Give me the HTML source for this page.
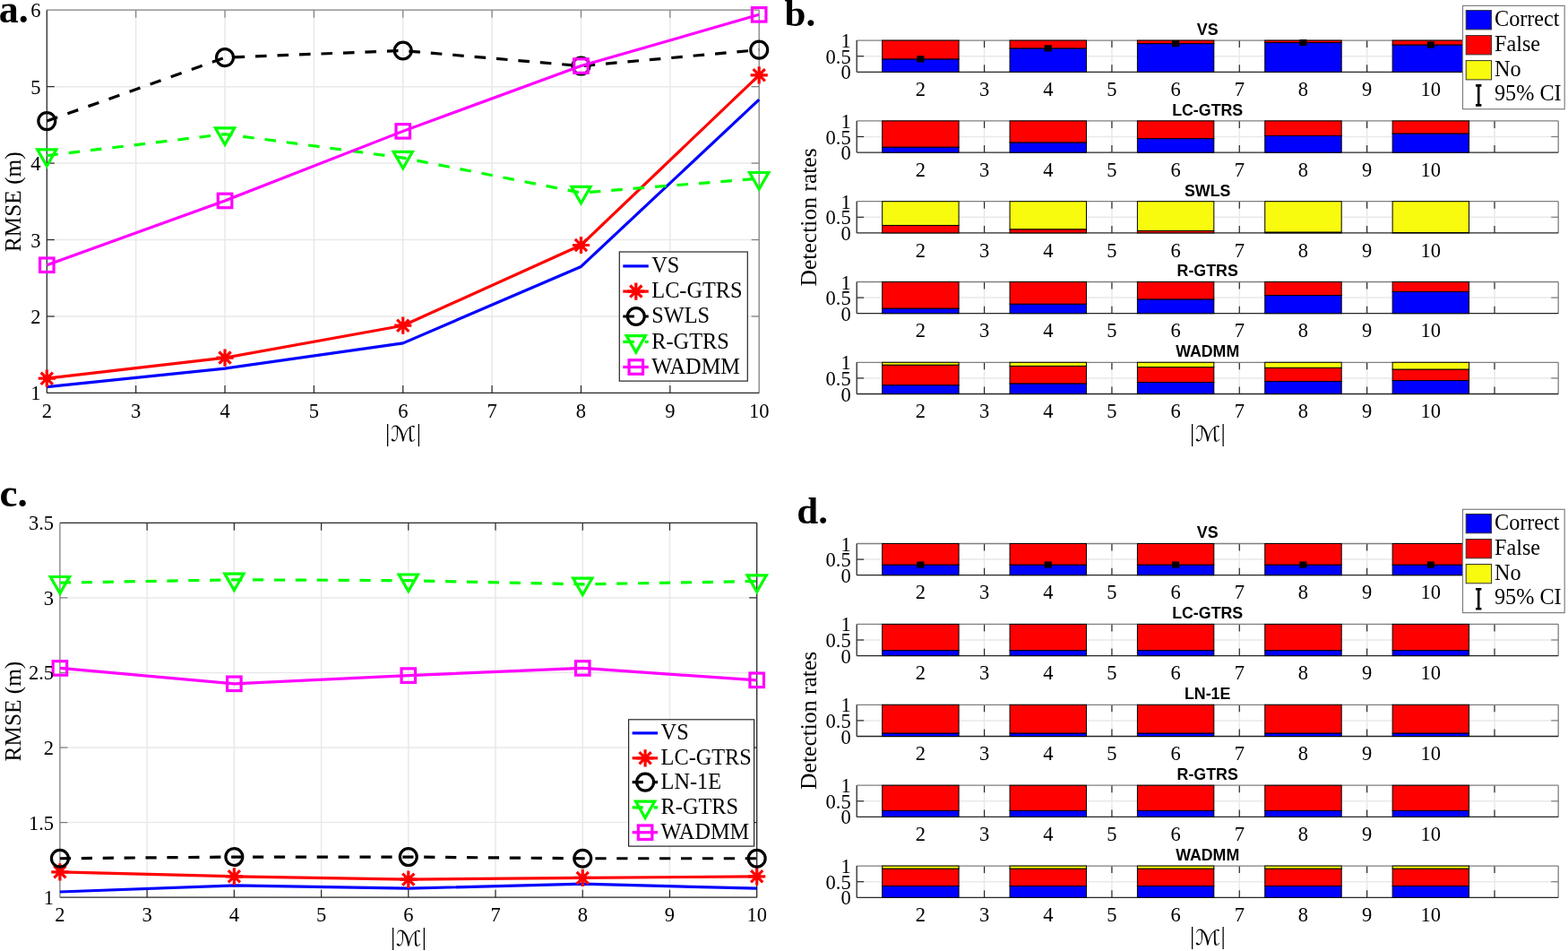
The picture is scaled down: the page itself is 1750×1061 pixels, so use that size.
<!DOCTYPE html>
<html><head><meta charset="utf-8"><title>Figure</title>
<style>html,body{margin:0;padding:0;background:#fff;overflow:hidden;}svg{display:block;}</style></head>
<body><svg width="1750" height="1061" viewBox="0 0 1750 1061">
<rect width="1750" height="1061" fill="#fff"/>
<line x1="151.66" y1="11.2" x2="151.66" y2="438.4" stroke="#e9e9e9" stroke-width="1.5" />
<line x1="251.03" y1="11.2" x2="251.03" y2="438.4" stroke="#e9e9e9" stroke-width="1.5" />
<line x1="350.39" y1="11.2" x2="350.39" y2="438.4" stroke="#e9e9e9" stroke-width="1.5" />
<line x1="449.75" y1="11.2" x2="449.75" y2="438.4" stroke="#e9e9e9" stroke-width="1.5" />
<line x1="549.11" y1="11.2" x2="549.11" y2="438.4" stroke="#e9e9e9" stroke-width="1.5" />
<line x1="648.48" y1="11.2" x2="648.48" y2="438.4" stroke="#e9e9e9" stroke-width="1.5" />
<line x1="747.84" y1="11.2" x2="747.84" y2="438.4" stroke="#e9e9e9" stroke-width="1.5" />
<line x1="52.3" y1="352.96" x2="847.2" y2="352.96" stroke="#e9e9e9" stroke-width="1.5" />
<line x1="52.3" y1="267.52" x2="847.2" y2="267.52" stroke="#e9e9e9" stroke-width="1.5" />
<line x1="52.3" y1="182.08" x2="847.2" y2="182.08" stroke="#e9e9e9" stroke-width="1.5" />
<line x1="52.3" y1="96.64" x2="847.2" y2="96.64" stroke="#e9e9e9" stroke-width="1.5" />
<line x1="151.66" y1="438.4" x2="151.66" y2="429.9" stroke="#262626" stroke-width="1.2" />
<line x1="151.66" y1="11.2" x2="151.66" y2="19.7" stroke="#7f7f7f" stroke-width="1.2" />
<line x1="251.03" y1="438.4" x2="251.03" y2="429.9" stroke="#262626" stroke-width="1.2" />
<line x1="251.03" y1="11.2" x2="251.03" y2="19.7" stroke="#7f7f7f" stroke-width="1.2" />
<line x1="350.39" y1="438.4" x2="350.39" y2="429.9" stroke="#262626" stroke-width="1.2" />
<line x1="350.39" y1="11.2" x2="350.39" y2="19.7" stroke="#7f7f7f" stroke-width="1.2" />
<line x1="449.75" y1="438.4" x2="449.75" y2="429.9" stroke="#262626" stroke-width="1.2" />
<line x1="449.75" y1="11.2" x2="449.75" y2="19.7" stroke="#7f7f7f" stroke-width="1.2" />
<line x1="549.11" y1="438.4" x2="549.11" y2="429.9" stroke="#262626" stroke-width="1.2" />
<line x1="549.11" y1="11.2" x2="549.11" y2="19.7" stroke="#7f7f7f" stroke-width="1.2" />
<line x1="648.48" y1="438.4" x2="648.48" y2="429.9" stroke="#262626" stroke-width="1.2" />
<line x1="648.48" y1="11.2" x2="648.48" y2="19.7" stroke="#7f7f7f" stroke-width="1.2" />
<line x1="747.84" y1="438.4" x2="747.84" y2="429.9" stroke="#262626" stroke-width="1.2" />
<line x1="747.84" y1="11.2" x2="747.84" y2="19.7" stroke="#7f7f7f" stroke-width="1.2" />
<line x1="52.3" y1="352.96" x2="60.8" y2="352.96" stroke="#262626" stroke-width="1.2" />
<line x1="847.2" y1="352.96" x2="838.7" y2="352.96" stroke="#7f7f7f" stroke-width="1.2" />
<line x1="52.3" y1="267.52" x2="60.8" y2="267.52" stroke="#262626" stroke-width="1.2" />
<line x1="847.2" y1="267.52" x2="838.7" y2="267.52" stroke="#7f7f7f" stroke-width="1.2" />
<line x1="52.3" y1="182.08" x2="60.8" y2="182.08" stroke="#262626" stroke-width="1.2" />
<line x1="847.2" y1="182.08" x2="838.7" y2="182.08" stroke="#7f7f7f" stroke-width="1.2" />
<line x1="52.3" y1="96.64" x2="60.8" y2="96.64" stroke="#262626" stroke-width="1.2" />
<line x1="847.2" y1="96.64" x2="838.7" y2="96.64" stroke="#7f7f7f" stroke-width="1.2" />
<line x1="52.3" y1="11.2" x2="847.2" y2="11.2" stroke="#7f7f7f" stroke-width="1.3" />
<line x1="847.2" y1="11.2" x2="847.2" y2="438.4" stroke="#7f7f7f" stroke-width="1.3" />
<line x1="52.3" y1="438.4" x2="847.2" y2="438.4" stroke="#262626" stroke-width="1.3" />
<line x1="52.3" y1="11.2" x2="52.3" y2="438.4" stroke="#262626" stroke-width="1.3" />
<polyline points="52.3,431.56 251.03,411.06 449.75,382.86 648.48,297.42 847.2,111.16" fill="none" stroke="#0000ff" stroke-width="3.2"  stroke-linejoin="round"/>
<polyline points="52.3,422.17 251.03,399.1 449.75,363.21 648.48,273.5 847.2,83.82" fill="none" stroke="#ff0000" stroke-width="3.2"  stroke-linejoin="round"/>
<path d="M42.7,422.17H61.9M52.3,412.57V431.77M45.7,415.57L58.9,428.77M45.7,428.77L58.9,415.57" stroke="#ff0000" stroke-width="3.2" fill="none"/>
<path d="M241.43,399.1H260.63M251.03,389.5V408.7M244.43,392.5L257.63,405.7M244.43,405.7L257.63,392.5" stroke="#ff0000" stroke-width="3.2" fill="none"/>
<path d="M440.15,363.21H459.35M449.75,353.61V372.81M443.15,356.61L456.35,369.81M443.15,369.81L456.35,356.61" stroke="#ff0000" stroke-width="3.2" fill="none"/>
<path d="M638.88,273.5H658.08M648.48,263.9V283.1M641.88,266.9L655.08,280.1M641.88,280.1L655.08,266.9" stroke="#ff0000" stroke-width="3.2" fill="none"/>
<path d="M837.6,83.82H856.8M847.2,74.22V93.42M840.6,77.22L853.8,90.42M840.6,90.42L853.8,77.22" stroke="#ff0000" stroke-width="3.2" fill="none"/>
<polyline points="52.3,135.09 251.03,64.17 449.75,56.48 648.48,73.57 847.2,55.63" fill="none" stroke="#000000" stroke-width="3.2" stroke-dasharray="12.6 11.9" stroke-linejoin="round"/>
<circle cx="52.3" cy="135.09" r="9.45" fill="none" stroke="#000000" stroke-width="3.2"/>
<circle cx="251.03" cy="64.17" r="9.45" fill="none" stroke="#000000" stroke-width="3.2"/>
<circle cx="449.75" cy="56.48" r="9.45" fill="none" stroke="#000000" stroke-width="3.2"/>
<circle cx="648.48" cy="73.57" r="9.45" fill="none" stroke="#000000" stroke-width="3.2"/>
<circle cx="847.2" cy="55.63" r="9.45" fill="none" stroke="#000000" stroke-width="3.2"/>
<polyline points="52.3,173.54 251.03,149.61 449.75,176.1 648.48,215.06 847.2,199.17" fill="none" stroke="#00ff00" stroke-width="3.2" stroke-dasharray="12.6 11.9" stroke-linejoin="round"/>
<path d="M41.7,166.89 L62.9,166.89 L52.3,185.34 Z" fill="none" stroke="#00ff00" stroke-width="3.2" stroke-linejoin="miter"/>
<path d="M240.43,142.96 L261.63,142.96 L251.03,161.41 Z" fill="none" stroke="#00ff00" stroke-width="3.2" stroke-linejoin="miter"/>
<path d="M439.15,169.45 L460.35,169.45 L449.75,187.9 Z" fill="none" stroke="#00ff00" stroke-width="3.2" stroke-linejoin="miter"/>
<path d="M637.88,208.41 L659.08,208.41 L648.48,226.86 Z" fill="none" stroke="#00ff00" stroke-width="3.2" stroke-linejoin="miter"/>
<path d="M836.6,192.52 L857.8,192.52 L847.2,210.97 Z" fill="none" stroke="#00ff00" stroke-width="3.2" stroke-linejoin="miter"/>
<polyline points="52.3,295.72 251.03,223.95 449.75,146.37 648.48,73.57 847.2,16.33" fill="none" stroke="#ff00ff" stroke-width="3.2"  stroke-linejoin="round"/>
<rect x="44.55" y="287.97" width="15.5" height="15.5" fill="none" stroke="#ff00ff" stroke-width="3.2"/>
<rect x="243.28" y="216.2" width="15.5" height="15.5" fill="none" stroke="#ff00ff" stroke-width="3.2"/>
<rect x="442" y="138.62" width="15.5" height="15.5" fill="none" stroke="#ff00ff" stroke-width="3.2"/>
<rect x="640.73" y="65.82" width="15.5" height="15.5" fill="none" stroke="#ff00ff" stroke-width="3.2"/>
<rect x="839.45" y="8.58" width="15.5" height="15.5" fill="none" stroke="#ff00ff" stroke-width="3.2"/>
<text x="52.3" y="466" font-size="22.5" text-anchor="middle" font-family="'Liberation Serif', 'Times New Roman', serif" font-weight="normal" fill="#000" >2</text>
<text x="151.66" y="466" font-size="22.5" text-anchor="middle" font-family="'Liberation Serif', 'Times New Roman', serif" font-weight="normal" fill="#000" >3</text>
<text x="251.03" y="466" font-size="22.5" text-anchor="middle" font-family="'Liberation Serif', 'Times New Roman', serif" font-weight="normal" fill="#000" >4</text>
<text x="350.39" y="466" font-size="22.5" text-anchor="middle" font-family="'Liberation Serif', 'Times New Roman', serif" font-weight="normal" fill="#000" >5</text>
<text x="449.75" y="466" font-size="22.5" text-anchor="middle" font-family="'Liberation Serif', 'Times New Roman', serif" font-weight="normal" fill="#000" >6</text>
<text x="549.11" y="466" font-size="22.5" text-anchor="middle" font-family="'Liberation Serif', 'Times New Roman', serif" font-weight="normal" fill="#000" >7</text>
<text x="648.48" y="466" font-size="22.5" text-anchor="middle" font-family="'Liberation Serif', 'Times New Roman', serif" font-weight="normal" fill="#000" >8</text>
<text x="747.84" y="466" font-size="22.5" text-anchor="middle" font-family="'Liberation Serif', 'Times New Roman', serif" font-weight="normal" fill="#000" >9</text>
<text x="847.2" y="466" font-size="22.5" text-anchor="middle" font-family="'Liberation Serif', 'Times New Roman', serif" font-weight="normal" fill="#000" >10</text>
<text x="45.5" y="446.4" font-size="22.5" text-anchor="end" font-family="'Liberation Serif', 'Times New Roman', serif" font-weight="normal" fill="#000" >1</text>
<text x="45.5" y="360.96" font-size="22.5" text-anchor="end" font-family="'Liberation Serif', 'Times New Roman', serif" font-weight="normal" fill="#000" >2</text>
<text x="45.5" y="275.52" font-size="22.5" text-anchor="end" font-family="'Liberation Serif', 'Times New Roman', serif" font-weight="normal" fill="#000" >3</text>
<text x="45.5" y="190.08" font-size="22.5" text-anchor="end" font-family="'Liberation Serif', 'Times New Roman', serif" font-weight="normal" fill="#000" >4</text>
<text x="45.5" y="104.64" font-size="22.5" text-anchor="end" font-family="'Liberation Serif', 'Times New Roman', serif" font-weight="normal" fill="#000" >5</text>
<text x="45.5" y="19.2" font-size="22.5" text-anchor="end" font-family="'Liberation Serif', 'Times New Roman', serif" font-weight="normal" fill="#000" >6</text>
<rect x="691.3" y="281" width="143.0" height="144.10000000000002" fill="#fff" stroke="#262626" stroke-width="1.2"/>
<line x1="695.3" y1="296.9" x2="723.8" y2="296.9" stroke="#0000ff" stroke-width="3.2" />
<text x="727.3" y="304.1" font-size="24.3" text-anchor="start" font-family="'Liberation Serif', 'Times New Roman', serif" font-weight="normal" fill="#000" >VS</text>
<line x1="695.3" y1="325.1" x2="723.8" y2="325.1" stroke="#ff0000" stroke-width="3.2" />
<path d="M700.2,325.1H719.4M709.8,315.5V334.7M703.2,318.5L716.4,331.7M703.2,331.7L716.4,318.5" stroke="#ff0000" stroke-width="3.2" fill="none"/>
<text x="727.3" y="332.3" font-size="24.3" text-anchor="start" font-family="'Liberation Serif', 'Times New Roman', serif" font-weight="normal" fill="#000" >LC-GTRS</text>
<line x1="695.3" y1="353" x2="723.8" y2="353" stroke="#000000" stroke-width="3.2" stroke-dasharray="12.6 11.9"/>
<circle cx="709.8" cy="353" r="9.45" fill="none" stroke="#000000" stroke-width="3.2"/>
<text x="727.3" y="360.2" font-size="24.3" text-anchor="start" font-family="'Liberation Serif', 'Times New Roman', serif" font-weight="normal" fill="#000" >SWLS</text>
<line x1="695.3" y1="381.3" x2="723.8" y2="381.3" stroke="#00ff00" stroke-width="3.2" stroke-dasharray="12.6 11.9"/>
<path d="M699.2,374.65 L720.4,374.65 L709.8,393.1 Z" fill="none" stroke="#00ff00" stroke-width="3.2" stroke-linejoin="miter"/>
<text x="727.3" y="388.5" font-size="24.3" text-anchor="start" font-family="'Liberation Serif', 'Times New Roman', serif" font-weight="normal" fill="#000" >R-GTRS</text>
<line x1="695.3" y1="409.5" x2="723.8" y2="409.5" stroke="#ff00ff" stroke-width="3.2" />
<rect x="702.05" y="401.75" width="15.5" height="15.5" fill="none" stroke="#ff00ff" stroke-width="3.2"/>
<text x="727.3" y="416.7" font-size="24.3" text-anchor="start" font-family="'Liberation Serif', 'Times New Roman', serif" font-weight="normal" fill="#000" >WADMM</text>
<line x1="164.12" y1="583.3" x2="164.12" y2="1001.2" stroke="#e9e9e9" stroke-width="1.5" />
<line x1="261.35" y1="583.3" x2="261.35" y2="1001.2" stroke="#e9e9e9" stroke-width="1.5" />
<line x1="358.58" y1="583.3" x2="358.58" y2="1001.2" stroke="#e9e9e9" stroke-width="1.5" />
<line x1="455.8" y1="583.3" x2="455.8" y2="1001.2" stroke="#e9e9e9" stroke-width="1.5" />
<line x1="553.03" y1="583.3" x2="553.03" y2="1001.2" stroke="#e9e9e9" stroke-width="1.5" />
<line x1="650.25" y1="583.3" x2="650.25" y2="1001.2" stroke="#e9e9e9" stroke-width="1.5" />
<line x1="747.48" y1="583.3" x2="747.48" y2="1001.2" stroke="#e9e9e9" stroke-width="1.5" />
<line x1="66.9" y1="917.62" x2="844.7" y2="917.62" stroke="#e9e9e9" stroke-width="1.5" />
<line x1="66.9" y1="834.04" x2="844.7" y2="834.04" stroke="#e9e9e9" stroke-width="1.5" />
<line x1="66.9" y1="750.46" x2="844.7" y2="750.46" stroke="#e9e9e9" stroke-width="1.5" />
<line x1="66.9" y1="666.88" x2="844.7" y2="666.88" stroke="#e9e9e9" stroke-width="1.5" />
<line x1="164.12" y1="1001.2" x2="164.12" y2="992.7" stroke="#262626" stroke-width="1.2" />
<line x1="164.12" y1="583.3" x2="164.12" y2="591.8" stroke="#262626" stroke-width="1.2" />
<line x1="261.35" y1="1001.2" x2="261.35" y2="992.7" stroke="#262626" stroke-width="1.2" />
<line x1="261.35" y1="583.3" x2="261.35" y2="591.8" stroke="#262626" stroke-width="1.2" />
<line x1="358.58" y1="1001.2" x2="358.58" y2="992.7" stroke="#262626" stroke-width="1.2" />
<line x1="358.58" y1="583.3" x2="358.58" y2="591.8" stroke="#262626" stroke-width="1.2" />
<line x1="455.8" y1="1001.2" x2="455.8" y2="992.7" stroke="#262626" stroke-width="1.2" />
<line x1="455.8" y1="583.3" x2="455.8" y2="591.8" stroke="#262626" stroke-width="1.2" />
<line x1="553.03" y1="1001.2" x2="553.03" y2="992.7" stroke="#262626" stroke-width="1.2" />
<line x1="553.03" y1="583.3" x2="553.03" y2="591.8" stroke="#262626" stroke-width="1.2" />
<line x1="650.25" y1="1001.2" x2="650.25" y2="992.7" stroke="#262626" stroke-width="1.2" />
<line x1="650.25" y1="583.3" x2="650.25" y2="591.8" stroke="#262626" stroke-width="1.2" />
<line x1="747.48" y1="1001.2" x2="747.48" y2="992.7" stroke="#262626" stroke-width="1.2" />
<line x1="747.48" y1="583.3" x2="747.48" y2="591.8" stroke="#262626" stroke-width="1.2" />
<line x1="66.9" y1="917.62" x2="75.4" y2="917.62" stroke="#7f7f7f" stroke-width="1.2" />
<line x1="844.7" y1="917.62" x2="836.2" y2="917.62" stroke="#262626" stroke-width="1.2" />
<line x1="66.9" y1="834.04" x2="75.4" y2="834.04" stroke="#7f7f7f" stroke-width="1.2" />
<line x1="844.7" y1="834.04" x2="836.2" y2="834.04" stroke="#262626" stroke-width="1.2" />
<line x1="66.9" y1="750.46" x2="75.4" y2="750.46" stroke="#7f7f7f" stroke-width="1.2" />
<line x1="844.7" y1="750.46" x2="836.2" y2="750.46" stroke="#262626" stroke-width="1.2" />
<line x1="66.9" y1="666.88" x2="75.4" y2="666.88" stroke="#7f7f7f" stroke-width="1.2" />
<line x1="844.7" y1="666.88" x2="836.2" y2="666.88" stroke="#262626" stroke-width="1.2" />
<line x1="66.9" y1="583.3" x2="844.7" y2="583.3" stroke="#262626" stroke-width="1.3" />
<line x1="844.7" y1="583.3" x2="844.7" y2="1001.2" stroke="#262626" stroke-width="1.3" />
<line x1="66.9" y1="1001.2" x2="844.7" y2="1001.2" stroke="#262626" stroke-width="1.3" />
<line x1="66.9" y1="583.3" x2="66.9" y2="1001.2" stroke="#7f7f7f" stroke-width="1.3" />
<polyline points="66.9,995.02 261.35,987.83 455.8,991.17 650.25,986.16 844.7,991.17" fill="none" stroke="#0000ff" stroke-width="3.2"  stroke-linejoin="round"/>
<polyline points="66.9,972.78 261.35,977.8 455.8,981.14 650.25,979.47 844.7,977.8" fill="none" stroke="#ff0000" stroke-width="3.2"  stroke-linejoin="round"/>
<path d="M57.3,972.78H76.5M66.9,963.18V982.38M60.3,966.18L73.5,979.38M60.3,979.38L73.5,966.18" stroke="#ff0000" stroke-width="3.2" fill="none"/>
<path d="M251.75,977.8H270.95M261.35,968.2V987.4M254.75,971.2L267.95,984.4M254.75,984.4L267.95,971.2" stroke="#ff0000" stroke-width="3.2" fill="none"/>
<path d="M446.2,981.14H465.4M455.8,971.54V990.74M449.2,974.54L462.4,987.74M449.2,987.74L462.4,974.54" stroke="#ff0000" stroke-width="3.2" fill="none"/>
<path d="M640.65,979.47H659.85M650.25,969.87V989.07M643.65,972.87L656.85,986.07M643.65,986.07L656.85,972.87" stroke="#ff0000" stroke-width="3.2" fill="none"/>
<path d="M835.1,977.8H854.3M844.7,968.2V987.4M838.1,971.2L851.3,984.4M838.1,984.4L851.3,971.2" stroke="#ff0000" stroke-width="3.2" fill="none"/>
<polyline points="66.9,957.74 261.35,956.07 455.8,956.07 650.25,957.74 844.7,957.74" fill="none" stroke="#000000" stroke-width="3.2" stroke-dasharray="12.2 11.7" stroke-linejoin="round"/>
<circle cx="66.9" cy="957.74" r="9.45" fill="none" stroke="#000000" stroke-width="3.2"/>
<circle cx="261.35" cy="956.07" r="9.45" fill="none" stroke="#000000" stroke-width="3.2"/>
<circle cx="455.8" cy="956.07" r="9.45" fill="none" stroke="#000000" stroke-width="3.2"/>
<circle cx="650.25" cy="957.74" r="9.45" fill="none" stroke="#000000" stroke-width="3.2"/>
<circle cx="844.7" cy="957.74" r="9.45" fill="none" stroke="#000000" stroke-width="3.2"/>
<polyline points="66.9,650.16 261.35,646.82 455.8,647.66 650.25,651.84 844.7,648.49" fill="none" stroke="#00ff00" stroke-width="3.2" stroke-dasharray="12.2 11.7" stroke-linejoin="round"/>
<path d="M56.3,643.51 L77.5,643.51 L66.9,661.96 Z" fill="none" stroke="#00ff00" stroke-width="3.2" stroke-linejoin="miter"/>
<path d="M250.75,640.17 L271.95,640.17 L261.35,658.62 Z" fill="none" stroke="#00ff00" stroke-width="3.2" stroke-linejoin="miter"/>
<path d="M445.2,641.01 L466.4,641.01 L455.8,659.46 Z" fill="none" stroke="#00ff00" stroke-width="3.2" stroke-linejoin="miter"/>
<path d="M639.65,645.19 L660.85,645.19 L650.25,663.64 Z" fill="none" stroke="#00ff00" stroke-width="3.2" stroke-linejoin="miter"/>
<path d="M834.1,641.84 L855.3,641.84 L844.7,660.29 Z" fill="none" stroke="#00ff00" stroke-width="3.2" stroke-linejoin="miter"/>
<polyline points="66.9,745.45 261.35,762.83 455.8,753.64 650.25,745.45 844.7,758.82" fill="none" stroke="#ff00ff" stroke-width="3.2"  stroke-linejoin="round"/>
<rect x="59.15" y="737.7" width="15.5" height="15.5" fill="none" stroke="#ff00ff" stroke-width="3.2"/>
<rect x="253.6" y="755.08" width="15.5" height="15.5" fill="none" stroke="#ff00ff" stroke-width="3.2"/>
<rect x="448.05" y="745.89" width="15.5" height="15.5" fill="none" stroke="#ff00ff" stroke-width="3.2"/>
<rect x="642.5" y="737.7" width="15.5" height="15.5" fill="none" stroke="#ff00ff" stroke-width="3.2"/>
<rect x="836.95" y="751.07" width="15.5" height="15.5" fill="none" stroke="#ff00ff" stroke-width="3.2"/>
<text x="66.9" y="1028.2" font-size="22.5" text-anchor="middle" font-family="'Liberation Serif', 'Times New Roman', serif" font-weight="normal" fill="#000" >2</text>
<text x="164.12" y="1028.2" font-size="22.5" text-anchor="middle" font-family="'Liberation Serif', 'Times New Roman', serif" font-weight="normal" fill="#000" >3</text>
<text x="261.35" y="1028.2" font-size="22.5" text-anchor="middle" font-family="'Liberation Serif', 'Times New Roman', serif" font-weight="normal" fill="#000" >4</text>
<text x="358.58" y="1028.2" font-size="22.5" text-anchor="middle" font-family="'Liberation Serif', 'Times New Roman', serif" font-weight="normal" fill="#000" >5</text>
<text x="455.8" y="1028.2" font-size="22.5" text-anchor="middle" font-family="'Liberation Serif', 'Times New Roman', serif" font-weight="normal" fill="#000" >6</text>
<text x="553.03" y="1028.2" font-size="22.5" text-anchor="middle" font-family="'Liberation Serif', 'Times New Roman', serif" font-weight="normal" fill="#000" >7</text>
<text x="650.25" y="1028.2" font-size="22.5" text-anchor="middle" font-family="'Liberation Serif', 'Times New Roman', serif" font-weight="normal" fill="#000" >8</text>
<text x="747.48" y="1028.2" font-size="22.5" text-anchor="middle" font-family="'Liberation Serif', 'Times New Roman', serif" font-weight="normal" fill="#000" >9</text>
<text x="844.7" y="1028.2" font-size="22.5" text-anchor="middle" font-family="'Liberation Serif', 'Times New Roman', serif" font-weight="normal" fill="#000" >10</text>
<text x="60" y="1009.2" font-size="22.5" text-anchor="end" font-family="'Liberation Serif', 'Times New Roman', serif" font-weight="normal" fill="#000" >1</text>
<text x="60" y="925.62" font-size="22.5" text-anchor="end" font-family="'Liberation Serif', 'Times New Roman', serif" font-weight="normal" fill="#000" >1.5</text>
<text x="60" y="842.04" font-size="22.5" text-anchor="end" font-family="'Liberation Serif', 'Times New Roman', serif" font-weight="normal" fill="#000" >2</text>
<text x="60" y="758.46" font-size="22.5" text-anchor="end" font-family="'Liberation Serif', 'Times New Roman', serif" font-weight="normal" fill="#000" >2.5</text>
<text x="60" y="674.88" font-size="22.5" text-anchor="end" font-family="'Liberation Serif', 'Times New Roman', serif" font-weight="normal" fill="#000" >3</text>
<text x="60" y="591.3" font-size="22.5" text-anchor="end" font-family="'Liberation Serif', 'Times New Roman', serif" font-weight="normal" fill="#000" >3.5</text>
<rect x="701.6" y="802.8" width="140.0" height="141.30000000000007" fill="#fff" stroke="#262626" stroke-width="1.2"/>
<line x1="705.6" y1="817.9" x2="734.1" y2="817.9" stroke="#0000ff" stroke-width="3.2" />
<text x="737.6" y="825.1" font-size="24.3" text-anchor="start" font-family="'Liberation Serif', 'Times New Roman', serif" font-weight="normal" fill="#000" >VS</text>
<line x1="705.6" y1="845.8" x2="734.1" y2="845.8" stroke="#ff0000" stroke-width="3.2" />
<path d="M710.5,845.8H729.7M720.1,836.2V855.4M713.5,839.2L726.7,852.4M713.5,852.4L726.7,839.2" stroke="#ff0000" stroke-width="3.2" fill="none"/>
<text x="737.6" y="853" font-size="24.3" text-anchor="start" font-family="'Liberation Serif', 'Times New Roman', serif" font-weight="normal" fill="#000" >LC-GTRS</text>
<line x1="705.6" y1="872.6" x2="734.1" y2="872.6" stroke="#000000" stroke-width="3.2" stroke-dasharray="12.2 11.7"/>
<circle cx="720.1" cy="872.6" r="9.45" fill="none" stroke="#000000" stroke-width="3.2"/>
<text x="737.6" y="879.8" font-size="24.3" text-anchor="start" font-family="'Liberation Serif', 'Times New Roman', serif" font-weight="normal" fill="#000" >LN-1E</text>
<line x1="705.6" y1="900.8" x2="734.1" y2="900.8" stroke="#00ff00" stroke-width="3.2" stroke-dasharray="12.2 11.7"/>
<path d="M709.5,894.15 L730.7,894.15 L720.1,912.6 Z" fill="none" stroke="#00ff00" stroke-width="3.2" stroke-linejoin="miter"/>
<text x="737.6" y="908" font-size="24.3" text-anchor="start" font-family="'Liberation Serif', 'Times New Roman', serif" font-weight="normal" fill="#000" >R-GTRS</text>
<line x1="705.6" y1="928.7" x2="734.1" y2="928.7" stroke="#ff00ff" stroke-width="3.2" />
<rect x="712.35" y="920.95" width="15.5" height="15.5" fill="none" stroke="#ff00ff" stroke-width="3.2"/>
<text x="737.6" y="935.9" font-size="24.3" text-anchor="start" font-family="'Liberation Serif', 'Times New Roman', serif" font-weight="normal" fill="#000" >WADMM</text>
<text x="22.6" y="225.2" font-size="25.3" text-anchor="middle" font-family="'Liberation Serif', 'Times New Roman', serif" font-weight="normal" fill="#000" transform="rotate(-90 22.6 225.2)">RMSE (m)</text>
<text x="22.6" y="793.6" font-size="25.3" text-anchor="middle" font-family="'Liberation Serif', 'Times New Roman', serif" font-weight="normal" fill="#000" transform="rotate(-90 22.6 793.6)">RMSE (m)</text>
<text x="430.1" y="491.85" font-size="26.3" text-anchor="start" font-family="'Liberation Serif', 'Times New Roman', serif" font-weight="normal" fill="#000" >|</text>
<text x="464.7" y="491.85" font-size="26.3" text-anchor="start" font-family="'Liberation Serif', 'Times New Roman', serif" font-weight="normal" fill="#000" >|</text>
<text x="0" y="0" font-size="23.5" font-family="DejaVu Sans, sans-serif" transform="translate(436.1 492.1) scale(1.13 1)">&#x2133;</text>
<text x="436.1" y="1054.35" font-size="26.3" text-anchor="start" font-family="'Liberation Serif', 'Times New Roman', serif" font-weight="normal" fill="#000" >|</text>
<text x="470.7" y="1054.35" font-size="26.3" text-anchor="start" font-family="'Liberation Serif', 'Times New Roman', serif" font-weight="normal" fill="#000" >|</text>
<text x="0" y="0" font-size="23.5" font-family="DejaVu Sans, sans-serif" transform="translate(442.1 1054.6) scale(1.13 1)">&#x2133;</text>
<line x1="1027.38" y1="45.1" x2="1027.38" y2="80.3" stroke="#e9e9e9" stroke-width="1.5" />
<line x1="1098.56" y1="45.1" x2="1098.56" y2="80.3" stroke="#e9e9e9" stroke-width="1.5" />
<line x1="1169.75" y1="45.1" x2="1169.75" y2="80.3" stroke="#e9e9e9" stroke-width="1.5" />
<line x1="1240.93" y1="45.1" x2="1240.93" y2="80.3" stroke="#e9e9e9" stroke-width="1.5" />
<line x1="1312.11" y1="45.1" x2="1312.11" y2="80.3" stroke="#e9e9e9" stroke-width="1.5" />
<line x1="1383.29" y1="45.1" x2="1383.29" y2="80.3" stroke="#e9e9e9" stroke-width="1.5" />
<line x1="1454.47" y1="45.1" x2="1454.47" y2="80.3" stroke="#e9e9e9" stroke-width="1.5" />
<line x1="1525.65" y1="45.1" x2="1525.65" y2="80.3" stroke="#e9e9e9" stroke-width="1.5" />
<line x1="1596.84" y1="45.1" x2="1596.84" y2="80.3" stroke="#e9e9e9" stroke-width="1.5" />
<line x1="1668.02" y1="45.1" x2="1668.02" y2="80.3" stroke="#e9e9e9" stroke-width="1.5" />
<line x1="956.2" y1="62.7" x2="1739.2" y2="62.7" stroke="#e9e9e9" stroke-width="1.5" />
<line x1="1027.38" y1="80.3" x2="1027.38" y2="72.3" stroke="#262626" stroke-width="1.2" />
<line x1="1027.38" y1="45.1" x2="1027.38" y2="53.1" stroke="#262626" stroke-width="1.2" />
<line x1="1098.56" y1="80.3" x2="1098.56" y2="72.3" stroke="#262626" stroke-width="1.2" />
<line x1="1098.56" y1="45.1" x2="1098.56" y2="53.1" stroke="#262626" stroke-width="1.2" />
<line x1="1169.75" y1="80.3" x2="1169.75" y2="72.3" stroke="#262626" stroke-width="1.2" />
<line x1="1169.75" y1="45.1" x2="1169.75" y2="53.1" stroke="#262626" stroke-width="1.2" />
<line x1="1240.93" y1="80.3" x2="1240.93" y2="72.3" stroke="#262626" stroke-width="1.2" />
<line x1="1240.93" y1="45.1" x2="1240.93" y2="53.1" stroke="#262626" stroke-width="1.2" />
<line x1="1312.11" y1="80.3" x2="1312.11" y2="72.3" stroke="#262626" stroke-width="1.2" />
<line x1="1312.11" y1="45.1" x2="1312.11" y2="53.1" stroke="#262626" stroke-width="1.2" />
<line x1="1383.29" y1="80.3" x2="1383.29" y2="72.3" stroke="#262626" stroke-width="1.2" />
<line x1="1383.29" y1="45.1" x2="1383.29" y2="53.1" stroke="#262626" stroke-width="1.2" />
<line x1="1454.47" y1="80.3" x2="1454.47" y2="72.3" stroke="#262626" stroke-width="1.2" />
<line x1="1454.47" y1="45.1" x2="1454.47" y2="53.1" stroke="#262626" stroke-width="1.2" />
<line x1="1525.65" y1="80.3" x2="1525.65" y2="72.3" stroke="#262626" stroke-width="1.2" />
<line x1="1525.65" y1="45.1" x2="1525.65" y2="53.1" stroke="#262626" stroke-width="1.2" />
<line x1="1596.84" y1="80.3" x2="1596.84" y2="72.3" stroke="#262626" stroke-width="1.2" />
<line x1="1596.84" y1="45.1" x2="1596.84" y2="53.1" stroke="#262626" stroke-width="1.2" />
<line x1="1668.02" y1="80.3" x2="1668.02" y2="72.3" stroke="#262626" stroke-width="1.2" />
<line x1="1668.02" y1="45.1" x2="1668.02" y2="53.1" stroke="#262626" stroke-width="1.2" />
<line x1="956.2" y1="62.7" x2="964.2" y2="62.7" stroke="#262626" stroke-width="1.2" />
<line x1="1739.2" y1="62.7" x2="1731.2" y2="62.7" stroke="#7f7f7f" stroke-width="1.2" />
<line x1="956.2" y1="45.1" x2="1739.2" y2="45.1" stroke="#7f7f7f" stroke-width="1.3" />
<line x1="1739.2" y1="45.1" x2="1739.2" y2="80.3" stroke="#7f7f7f" stroke-width="1.3" />
<line x1="956.2" y1="80.3" x2="1739.2" y2="80.3" stroke="#262626" stroke-width="1.3" />
<line x1="956.2" y1="45.1" x2="956.2" y2="80.3" stroke="#262626" stroke-width="1.3" />
<rect x="984.67" y="65.87" width="85.42" height="14.43" fill="#0000ff" stroke="#000" stroke-width="1"/>
<rect x="984.67" y="45.1" width="85.42" height="20.77" fill="#ff0000" stroke="#000" stroke-width="1"/>
<rect x="1023.38" y="62.27" width="8" height="7.2" fill="#000"/>
<rect x="1127.04" y="53.9" width="85.42" height="26.4" fill="#0000ff" stroke="#000" stroke-width="1"/>
<rect x="1127.04" y="45.1" width="85.42" height="8.8" fill="#ff0000" stroke="#000" stroke-width="1"/>
<rect x="1165.75" y="50.3" width="8" height="7.2" fill="#000"/>
<rect x="1269.4" y="48.62" width="85.42" height="31.68" fill="#0000ff" stroke="#000" stroke-width="1"/>
<rect x="1269.4" y="45.1" width="85.42" height="3.52" fill="#ff0000" stroke="#000" stroke-width="1"/>
<rect x="1308.11" y="45.02" width="8" height="7.2" fill="#000"/>
<rect x="1411.76" y="47.56" width="85.42" height="32.74" fill="#0000ff" stroke="#000" stroke-width="1"/>
<rect x="1411.76" y="45.1" width="85.42" height="2.46" fill="#ff0000" stroke="#000" stroke-width="1"/>
<rect x="1450.47" y="43.96" width="8" height="7.2" fill="#000"/>
<rect x="1554.13" y="50.03" width="85.42" height="30.27" fill="#0000ff" stroke="#000" stroke-width="1"/>
<rect x="1554.13" y="45.1" width="85.42" height="4.93" fill="#ff0000" stroke="#000" stroke-width="1"/>
<rect x="1592.84" y="46.43" width="8" height="7.2" fill="#000"/>
<text x="1027.38" y="106.9" font-size="22.5" text-anchor="middle" font-family="'Liberation Serif', 'Times New Roman', serif" font-weight="normal" fill="#000" >2</text>
<text x="1098.56" y="106.9" font-size="22.5" text-anchor="middle" font-family="'Liberation Serif', 'Times New Roman', serif" font-weight="normal" fill="#000" >3</text>
<text x="1169.75" y="106.9" font-size="22.5" text-anchor="middle" font-family="'Liberation Serif', 'Times New Roman', serif" font-weight="normal" fill="#000" >4</text>
<text x="1240.93" y="106.9" font-size="22.5" text-anchor="middle" font-family="'Liberation Serif', 'Times New Roman', serif" font-weight="normal" fill="#000" >5</text>
<text x="1312.11" y="106.9" font-size="22.5" text-anchor="middle" font-family="'Liberation Serif', 'Times New Roman', serif" font-weight="normal" fill="#000" >6</text>
<text x="1383.29" y="106.9" font-size="22.5" text-anchor="middle" font-family="'Liberation Serif', 'Times New Roman', serif" font-weight="normal" fill="#000" >7</text>
<text x="1454.47" y="106.9" font-size="22.5" text-anchor="middle" font-family="'Liberation Serif', 'Times New Roman', serif" font-weight="normal" fill="#000" >8</text>
<text x="1525.65" y="106.9" font-size="22.5" text-anchor="middle" font-family="'Liberation Serif', 'Times New Roman', serif" font-weight="normal" fill="#000" >9</text>
<text x="1596.84" y="106.9" font-size="22.5" text-anchor="middle" font-family="'Liberation Serif', 'Times New Roman', serif" font-weight="normal" fill="#000" >10</text>
<text x="949.7" y="88.3" font-size="22.5" text-anchor="end" font-family="'Liberation Serif', 'Times New Roman', serif" font-weight="normal" fill="#000" >0</text>
<text x="949.7" y="70.7" font-size="22.5" text-anchor="end" font-family="'Liberation Serif', 'Times New Roman', serif" font-weight="normal" fill="#000" >0.5</text>
<text x="949.7" y="53.1" font-size="22.5" text-anchor="end" font-family="'Liberation Serif', 'Times New Roman', serif" font-weight="normal" fill="#000" >1</text>
<text x="1347.7" y="38.9" font-size="17.8" text-anchor="middle" font-family="'Liberation Sans', Arial, sans-serif" font-weight="bold" fill="#000" >VS</text>
<line x1="1027.38" y1="134.9" x2="1027.38" y2="170.1" stroke="#e9e9e9" stroke-width="1.5" />
<line x1="1098.56" y1="134.9" x2="1098.56" y2="170.1" stroke="#e9e9e9" stroke-width="1.5" />
<line x1="1169.75" y1="134.9" x2="1169.75" y2="170.1" stroke="#e9e9e9" stroke-width="1.5" />
<line x1="1240.93" y1="134.9" x2="1240.93" y2="170.1" stroke="#e9e9e9" stroke-width="1.5" />
<line x1="1312.11" y1="134.9" x2="1312.11" y2="170.1" stroke="#e9e9e9" stroke-width="1.5" />
<line x1="1383.29" y1="134.9" x2="1383.29" y2="170.1" stroke="#e9e9e9" stroke-width="1.5" />
<line x1="1454.47" y1="134.9" x2="1454.47" y2="170.1" stroke="#e9e9e9" stroke-width="1.5" />
<line x1="1525.65" y1="134.9" x2="1525.65" y2="170.1" stroke="#e9e9e9" stroke-width="1.5" />
<line x1="1596.84" y1="134.9" x2="1596.84" y2="170.1" stroke="#e9e9e9" stroke-width="1.5" />
<line x1="1668.02" y1="134.9" x2="1668.02" y2="170.1" stroke="#e9e9e9" stroke-width="1.5" />
<line x1="956.2" y1="152.5" x2="1739.2" y2="152.5" stroke="#e9e9e9" stroke-width="1.5" />
<line x1="1027.38" y1="170.1" x2="1027.38" y2="162.1" stroke="#262626" stroke-width="1.2" />
<line x1="1027.38" y1="134.9" x2="1027.38" y2="142.9" stroke="#262626" stroke-width="1.2" />
<line x1="1098.56" y1="170.1" x2="1098.56" y2="162.1" stroke="#262626" stroke-width="1.2" />
<line x1="1098.56" y1="134.9" x2="1098.56" y2="142.9" stroke="#262626" stroke-width="1.2" />
<line x1="1169.75" y1="170.1" x2="1169.75" y2="162.1" stroke="#262626" stroke-width="1.2" />
<line x1="1169.75" y1="134.9" x2="1169.75" y2="142.9" stroke="#262626" stroke-width="1.2" />
<line x1="1240.93" y1="170.1" x2="1240.93" y2="162.1" stroke="#262626" stroke-width="1.2" />
<line x1="1240.93" y1="134.9" x2="1240.93" y2="142.9" stroke="#262626" stroke-width="1.2" />
<line x1="1312.11" y1="170.1" x2="1312.11" y2="162.1" stroke="#262626" stroke-width="1.2" />
<line x1="1312.11" y1="134.9" x2="1312.11" y2="142.9" stroke="#262626" stroke-width="1.2" />
<line x1="1383.29" y1="170.1" x2="1383.29" y2="162.1" stroke="#262626" stroke-width="1.2" />
<line x1="1383.29" y1="134.9" x2="1383.29" y2="142.9" stroke="#262626" stroke-width="1.2" />
<line x1="1454.47" y1="170.1" x2="1454.47" y2="162.1" stroke="#262626" stroke-width="1.2" />
<line x1="1454.47" y1="134.9" x2="1454.47" y2="142.9" stroke="#262626" stroke-width="1.2" />
<line x1="1525.65" y1="170.1" x2="1525.65" y2="162.1" stroke="#262626" stroke-width="1.2" />
<line x1="1525.65" y1="134.9" x2="1525.65" y2="142.9" stroke="#262626" stroke-width="1.2" />
<line x1="1596.84" y1="170.1" x2="1596.84" y2="162.1" stroke="#262626" stroke-width="1.2" />
<line x1="1596.84" y1="134.9" x2="1596.84" y2="142.9" stroke="#262626" stroke-width="1.2" />
<line x1="1668.02" y1="170.1" x2="1668.02" y2="162.1" stroke="#262626" stroke-width="1.2" />
<line x1="1668.02" y1="134.9" x2="1668.02" y2="142.9" stroke="#262626" stroke-width="1.2" />
<line x1="956.2" y1="152.5" x2="964.2" y2="152.5" stroke="#262626" stroke-width="1.2" />
<line x1="1739.2" y1="152.5" x2="1731.2" y2="152.5" stroke="#7f7f7f" stroke-width="1.2" />
<line x1="956.2" y1="134.9" x2="1739.2" y2="134.9" stroke="#7f7f7f" stroke-width="1.3" />
<line x1="1739.2" y1="134.9" x2="1739.2" y2="170.1" stroke="#7f7f7f" stroke-width="1.3" />
<line x1="956.2" y1="170.1" x2="1739.2" y2="170.1" stroke="#262626" stroke-width="1.3" />
<line x1="956.2" y1="134.9" x2="956.2" y2="170.1" stroke="#262626" stroke-width="1.3" />
<rect x="984.67" y="164.12" width="85.42" height="5.98" fill="#0000ff" stroke="#000" stroke-width="1"/>
<rect x="984.67" y="134.9" width="85.42" height="29.22" fill="#ff0000" stroke="#000" stroke-width="1"/>
<rect x="1127.04" y="158.94" width="85.42" height="11.16" fill="#0000ff" stroke="#000" stroke-width="1"/>
<rect x="1127.04" y="134.9" width="85.42" height="24.04" fill="#ff0000" stroke="#000" stroke-width="1"/>
<rect x="1269.4" y="154.61" width="85.42" height="15.49" fill="#0000ff" stroke="#000" stroke-width="1"/>
<rect x="1269.4" y="134.9" width="85.42" height="19.71" fill="#ff0000" stroke="#000" stroke-width="1"/>
<rect x="1411.76" y="151.44" width="85.42" height="18.66" fill="#0000ff" stroke="#000" stroke-width="1"/>
<rect x="1411.76" y="134.9" width="85.42" height="16.54" fill="#ff0000" stroke="#000" stroke-width="1"/>
<rect x="1554.13" y="148.98" width="85.42" height="21.12" fill="#0000ff" stroke="#000" stroke-width="1"/>
<rect x="1554.13" y="134.9" width="85.42" height="14.08" fill="#ff0000" stroke="#000" stroke-width="1"/>
<text x="1027.38" y="196.7" font-size="22.5" text-anchor="middle" font-family="'Liberation Serif', 'Times New Roman', serif" font-weight="normal" fill="#000" >2</text>
<text x="1098.56" y="196.7" font-size="22.5" text-anchor="middle" font-family="'Liberation Serif', 'Times New Roman', serif" font-weight="normal" fill="#000" >3</text>
<text x="1169.75" y="196.7" font-size="22.5" text-anchor="middle" font-family="'Liberation Serif', 'Times New Roman', serif" font-weight="normal" fill="#000" >4</text>
<text x="1240.93" y="196.7" font-size="22.5" text-anchor="middle" font-family="'Liberation Serif', 'Times New Roman', serif" font-weight="normal" fill="#000" >5</text>
<text x="1312.11" y="196.7" font-size="22.5" text-anchor="middle" font-family="'Liberation Serif', 'Times New Roman', serif" font-weight="normal" fill="#000" >6</text>
<text x="1383.29" y="196.7" font-size="22.5" text-anchor="middle" font-family="'Liberation Serif', 'Times New Roman', serif" font-weight="normal" fill="#000" >7</text>
<text x="1454.47" y="196.7" font-size="22.5" text-anchor="middle" font-family="'Liberation Serif', 'Times New Roman', serif" font-weight="normal" fill="#000" >8</text>
<text x="1525.65" y="196.7" font-size="22.5" text-anchor="middle" font-family="'Liberation Serif', 'Times New Roman', serif" font-weight="normal" fill="#000" >9</text>
<text x="1596.84" y="196.7" font-size="22.5" text-anchor="middle" font-family="'Liberation Serif', 'Times New Roman', serif" font-weight="normal" fill="#000" >10</text>
<text x="949.7" y="178.1" font-size="22.5" text-anchor="end" font-family="'Liberation Serif', 'Times New Roman', serif" font-weight="normal" fill="#000" >0</text>
<text x="949.7" y="160.5" font-size="22.5" text-anchor="end" font-family="'Liberation Serif', 'Times New Roman', serif" font-weight="normal" fill="#000" >0.5</text>
<text x="949.7" y="142.9" font-size="22.5" text-anchor="end" font-family="'Liberation Serif', 'Times New Roman', serif" font-weight="normal" fill="#000" >1</text>
<text x="1347.7" y="128.7" font-size="17.8" text-anchor="middle" font-family="'Liberation Sans', Arial, sans-serif" font-weight="bold" fill="#000" >LC-GTRS</text>
<line x1="1027.38" y1="224.7" x2="1027.38" y2="259.9" stroke="#e9e9e9" stroke-width="1.5" />
<line x1="1098.56" y1="224.7" x2="1098.56" y2="259.9" stroke="#e9e9e9" stroke-width="1.5" />
<line x1="1169.75" y1="224.7" x2="1169.75" y2="259.9" stroke="#e9e9e9" stroke-width="1.5" />
<line x1="1240.93" y1="224.7" x2="1240.93" y2="259.9" stroke="#e9e9e9" stroke-width="1.5" />
<line x1="1312.11" y1="224.7" x2="1312.11" y2="259.9" stroke="#e9e9e9" stroke-width="1.5" />
<line x1="1383.29" y1="224.7" x2="1383.29" y2="259.9" stroke="#e9e9e9" stroke-width="1.5" />
<line x1="1454.47" y1="224.7" x2="1454.47" y2="259.9" stroke="#e9e9e9" stroke-width="1.5" />
<line x1="1525.65" y1="224.7" x2="1525.65" y2="259.9" stroke="#e9e9e9" stroke-width="1.5" />
<line x1="1596.84" y1="224.7" x2="1596.84" y2="259.9" stroke="#e9e9e9" stroke-width="1.5" />
<line x1="1668.02" y1="224.7" x2="1668.02" y2="259.9" stroke="#e9e9e9" stroke-width="1.5" />
<line x1="956.2" y1="242.3" x2="1739.2" y2="242.3" stroke="#e9e9e9" stroke-width="1.5" />
<line x1="1027.38" y1="259.9" x2="1027.38" y2="251.9" stroke="#262626" stroke-width="1.2" />
<line x1="1027.38" y1="224.7" x2="1027.38" y2="232.7" stroke="#262626" stroke-width="1.2" />
<line x1="1098.56" y1="259.9" x2="1098.56" y2="251.9" stroke="#262626" stroke-width="1.2" />
<line x1="1098.56" y1="224.7" x2="1098.56" y2="232.7" stroke="#262626" stroke-width="1.2" />
<line x1="1169.75" y1="259.9" x2="1169.75" y2="251.9" stroke="#262626" stroke-width="1.2" />
<line x1="1169.75" y1="224.7" x2="1169.75" y2="232.7" stroke="#262626" stroke-width="1.2" />
<line x1="1240.93" y1="259.9" x2="1240.93" y2="251.9" stroke="#262626" stroke-width="1.2" />
<line x1="1240.93" y1="224.7" x2="1240.93" y2="232.7" stroke="#262626" stroke-width="1.2" />
<line x1="1312.11" y1="259.9" x2="1312.11" y2="251.9" stroke="#262626" stroke-width="1.2" />
<line x1="1312.11" y1="224.7" x2="1312.11" y2="232.7" stroke="#262626" stroke-width="1.2" />
<line x1="1383.29" y1="259.9" x2="1383.29" y2="251.9" stroke="#262626" stroke-width="1.2" />
<line x1="1383.29" y1="224.7" x2="1383.29" y2="232.7" stroke="#262626" stroke-width="1.2" />
<line x1="1454.47" y1="259.9" x2="1454.47" y2="251.9" stroke="#262626" stroke-width="1.2" />
<line x1="1454.47" y1="224.7" x2="1454.47" y2="232.7" stroke="#262626" stroke-width="1.2" />
<line x1="1525.65" y1="259.9" x2="1525.65" y2="251.9" stroke="#262626" stroke-width="1.2" />
<line x1="1525.65" y1="224.7" x2="1525.65" y2="232.7" stroke="#262626" stroke-width="1.2" />
<line x1="1596.84" y1="259.9" x2="1596.84" y2="251.9" stroke="#262626" stroke-width="1.2" />
<line x1="1596.84" y1="224.7" x2="1596.84" y2="232.7" stroke="#262626" stroke-width="1.2" />
<line x1="1668.02" y1="259.9" x2="1668.02" y2="251.9" stroke="#262626" stroke-width="1.2" />
<line x1="1668.02" y1="224.7" x2="1668.02" y2="232.7" stroke="#262626" stroke-width="1.2" />
<line x1="956.2" y1="242.3" x2="964.2" y2="242.3" stroke="#262626" stroke-width="1.2" />
<line x1="1739.2" y1="242.3" x2="1731.2" y2="242.3" stroke="#7f7f7f" stroke-width="1.2" />
<line x1="956.2" y1="224.7" x2="1739.2" y2="224.7" stroke="#7f7f7f" stroke-width="1.3" />
<line x1="1739.2" y1="224.7" x2="1739.2" y2="259.9" stroke="#7f7f7f" stroke-width="1.3" />
<line x1="956.2" y1="259.9" x2="1739.2" y2="259.9" stroke="#262626" stroke-width="1.3" />
<line x1="956.2" y1="224.7" x2="956.2" y2="259.9" stroke="#262626" stroke-width="1.3" />
<rect x="984.67" y="251.45" width="85.42" height="8.45" fill="#ff0000" stroke="#000" stroke-width="1"/>
<rect x="984.67" y="224.7" width="85.42" height="26.75" fill="#f9fb0e" stroke="#000" stroke-width="1"/>
<rect x="1127.04" y="255.78" width="85.42" height="4.12" fill="#ff0000" stroke="#000" stroke-width="1"/>
<rect x="1127.04" y="224.7" width="85.42" height="31.08" fill="#f9fb0e" stroke="#000" stroke-width="1"/>
<rect x="1269.4" y="257.44" width="85.42" height="2.46" fill="#ff0000" stroke="#000" stroke-width="1"/>
<rect x="1269.4" y="224.7" width="85.42" height="32.74" fill="#f9fb0e" stroke="#000" stroke-width="1"/>
<rect x="1411.76" y="259.02" width="85.42" height="0.88" fill="#ff0000" stroke="#000" stroke-width="1"/>
<rect x="1411.76" y="224.7" width="85.42" height="34.32" fill="#f9fb0e" stroke="#000" stroke-width="1"/>
<rect x="1554.13" y="259.48" width="85.42" height="0.42" fill="#ff0000" stroke="#000" stroke-width="1"/>
<rect x="1554.13" y="224.7" width="85.42" height="34.78" fill="#f9fb0e" stroke="#000" stroke-width="1"/>
<text x="1027.38" y="286.5" font-size="22.5" text-anchor="middle" font-family="'Liberation Serif', 'Times New Roman', serif" font-weight="normal" fill="#000" >2</text>
<text x="1098.56" y="286.5" font-size="22.5" text-anchor="middle" font-family="'Liberation Serif', 'Times New Roman', serif" font-weight="normal" fill="#000" >3</text>
<text x="1169.75" y="286.5" font-size="22.5" text-anchor="middle" font-family="'Liberation Serif', 'Times New Roman', serif" font-weight="normal" fill="#000" >4</text>
<text x="1240.93" y="286.5" font-size="22.5" text-anchor="middle" font-family="'Liberation Serif', 'Times New Roman', serif" font-weight="normal" fill="#000" >5</text>
<text x="1312.11" y="286.5" font-size="22.5" text-anchor="middle" font-family="'Liberation Serif', 'Times New Roman', serif" font-weight="normal" fill="#000" >6</text>
<text x="1383.29" y="286.5" font-size="22.5" text-anchor="middle" font-family="'Liberation Serif', 'Times New Roman', serif" font-weight="normal" fill="#000" >7</text>
<text x="1454.47" y="286.5" font-size="22.5" text-anchor="middle" font-family="'Liberation Serif', 'Times New Roman', serif" font-weight="normal" fill="#000" >8</text>
<text x="1525.65" y="286.5" font-size="22.5" text-anchor="middle" font-family="'Liberation Serif', 'Times New Roman', serif" font-weight="normal" fill="#000" >9</text>
<text x="1596.84" y="286.5" font-size="22.5" text-anchor="middle" font-family="'Liberation Serif', 'Times New Roman', serif" font-weight="normal" fill="#000" >10</text>
<text x="949.7" y="267.9" font-size="22.5" text-anchor="end" font-family="'Liberation Serif', 'Times New Roman', serif" font-weight="normal" fill="#000" >0</text>
<text x="949.7" y="250.3" font-size="22.5" text-anchor="end" font-family="'Liberation Serif', 'Times New Roman', serif" font-weight="normal" fill="#000" >0.5</text>
<text x="949.7" y="232.7" font-size="22.5" text-anchor="end" font-family="'Liberation Serif', 'Times New Roman', serif" font-weight="normal" fill="#000" >1</text>
<text x="1347.7" y="218.5" font-size="17.8" text-anchor="middle" font-family="'Liberation Sans', Arial, sans-serif" font-weight="bold" fill="#000" >SWLS</text>
<line x1="1027.38" y1="314.5" x2="1027.38" y2="349.7" stroke="#e9e9e9" stroke-width="1.5" />
<line x1="1098.56" y1="314.5" x2="1098.56" y2="349.7" stroke="#e9e9e9" stroke-width="1.5" />
<line x1="1169.75" y1="314.5" x2="1169.75" y2="349.7" stroke="#e9e9e9" stroke-width="1.5" />
<line x1="1240.93" y1="314.5" x2="1240.93" y2="349.7" stroke="#e9e9e9" stroke-width="1.5" />
<line x1="1312.11" y1="314.5" x2="1312.11" y2="349.7" stroke="#e9e9e9" stroke-width="1.5" />
<line x1="1383.29" y1="314.5" x2="1383.29" y2="349.7" stroke="#e9e9e9" stroke-width="1.5" />
<line x1="1454.47" y1="314.5" x2="1454.47" y2="349.7" stroke="#e9e9e9" stroke-width="1.5" />
<line x1="1525.65" y1="314.5" x2="1525.65" y2="349.7" stroke="#e9e9e9" stroke-width="1.5" />
<line x1="1596.84" y1="314.5" x2="1596.84" y2="349.7" stroke="#e9e9e9" stroke-width="1.5" />
<line x1="1668.02" y1="314.5" x2="1668.02" y2="349.7" stroke="#e9e9e9" stroke-width="1.5" />
<line x1="956.2" y1="332.1" x2="1739.2" y2="332.1" stroke="#e9e9e9" stroke-width="1.5" />
<line x1="1027.38" y1="349.7" x2="1027.38" y2="341.7" stroke="#262626" stroke-width="1.2" />
<line x1="1027.38" y1="314.5" x2="1027.38" y2="322.5" stroke="#262626" stroke-width="1.2" />
<line x1="1098.56" y1="349.7" x2="1098.56" y2="341.7" stroke="#262626" stroke-width="1.2" />
<line x1="1098.56" y1="314.5" x2="1098.56" y2="322.5" stroke="#262626" stroke-width="1.2" />
<line x1="1169.75" y1="349.7" x2="1169.75" y2="341.7" stroke="#262626" stroke-width="1.2" />
<line x1="1169.75" y1="314.5" x2="1169.75" y2="322.5" stroke="#262626" stroke-width="1.2" />
<line x1="1240.93" y1="349.7" x2="1240.93" y2="341.7" stroke="#262626" stroke-width="1.2" />
<line x1="1240.93" y1="314.5" x2="1240.93" y2="322.5" stroke="#262626" stroke-width="1.2" />
<line x1="1312.11" y1="349.7" x2="1312.11" y2="341.7" stroke="#262626" stroke-width="1.2" />
<line x1="1312.11" y1="314.5" x2="1312.11" y2="322.5" stroke="#262626" stroke-width="1.2" />
<line x1="1383.29" y1="349.7" x2="1383.29" y2="341.7" stroke="#262626" stroke-width="1.2" />
<line x1="1383.29" y1="314.5" x2="1383.29" y2="322.5" stroke="#262626" stroke-width="1.2" />
<line x1="1454.47" y1="349.7" x2="1454.47" y2="341.7" stroke="#262626" stroke-width="1.2" />
<line x1="1454.47" y1="314.5" x2="1454.47" y2="322.5" stroke="#262626" stroke-width="1.2" />
<line x1="1525.65" y1="349.7" x2="1525.65" y2="341.7" stroke="#262626" stroke-width="1.2" />
<line x1="1525.65" y1="314.5" x2="1525.65" y2="322.5" stroke="#262626" stroke-width="1.2" />
<line x1="1596.84" y1="349.7" x2="1596.84" y2="341.7" stroke="#262626" stroke-width="1.2" />
<line x1="1596.84" y1="314.5" x2="1596.84" y2="322.5" stroke="#262626" stroke-width="1.2" />
<line x1="1668.02" y1="349.7" x2="1668.02" y2="341.7" stroke="#262626" stroke-width="1.2" />
<line x1="1668.02" y1="314.5" x2="1668.02" y2="322.5" stroke="#262626" stroke-width="1.2" />
<line x1="956.2" y1="332.1" x2="964.2" y2="332.1" stroke="#262626" stroke-width="1.2" />
<line x1="1739.2" y1="332.1" x2="1731.2" y2="332.1" stroke="#7f7f7f" stroke-width="1.2" />
<line x1="956.2" y1="314.5" x2="1739.2" y2="314.5" stroke="#7f7f7f" stroke-width="1.3" />
<line x1="1739.2" y1="314.5" x2="1739.2" y2="349.7" stroke="#7f7f7f" stroke-width="1.3" />
<line x1="956.2" y1="349.7" x2="1739.2" y2="349.7" stroke="#262626" stroke-width="1.3" />
<line x1="956.2" y1="314.5" x2="956.2" y2="349.7" stroke="#262626" stroke-width="1.3" />
<rect x="984.67" y="344.07" width="85.42" height="5.63" fill="#0000ff" stroke="#000" stroke-width="1"/>
<rect x="984.67" y="314.5" width="85.42" height="29.57" fill="#ff0000" stroke="#000" stroke-width="1"/>
<rect x="1127.04" y="339.14" width="85.42" height="10.56" fill="#0000ff" stroke="#000" stroke-width="1"/>
<rect x="1127.04" y="314.5" width="85.42" height="24.64" fill="#ff0000" stroke="#000" stroke-width="1"/>
<rect x="1269.4" y="333.86" width="85.42" height="15.84" fill="#0000ff" stroke="#000" stroke-width="1"/>
<rect x="1269.4" y="314.5" width="85.42" height="19.36" fill="#ff0000" stroke="#000" stroke-width="1"/>
<rect x="1411.76" y="329.46" width="85.42" height="20.24" fill="#0000ff" stroke="#000" stroke-width="1"/>
<rect x="1411.76" y="314.5" width="85.42" height="14.96" fill="#ff0000" stroke="#000" stroke-width="1"/>
<rect x="1554.13" y="325.41" width="85.42" height="24.29" fill="#0000ff" stroke="#000" stroke-width="1"/>
<rect x="1554.13" y="314.5" width="85.42" height="10.91" fill="#ff0000" stroke="#000" stroke-width="1"/>
<text x="1027.38" y="376.3" font-size="22.5" text-anchor="middle" font-family="'Liberation Serif', 'Times New Roman', serif" font-weight="normal" fill="#000" >2</text>
<text x="1098.56" y="376.3" font-size="22.5" text-anchor="middle" font-family="'Liberation Serif', 'Times New Roman', serif" font-weight="normal" fill="#000" >3</text>
<text x="1169.75" y="376.3" font-size="22.5" text-anchor="middle" font-family="'Liberation Serif', 'Times New Roman', serif" font-weight="normal" fill="#000" >4</text>
<text x="1240.93" y="376.3" font-size="22.5" text-anchor="middle" font-family="'Liberation Serif', 'Times New Roman', serif" font-weight="normal" fill="#000" >5</text>
<text x="1312.11" y="376.3" font-size="22.5" text-anchor="middle" font-family="'Liberation Serif', 'Times New Roman', serif" font-weight="normal" fill="#000" >6</text>
<text x="1383.29" y="376.3" font-size="22.5" text-anchor="middle" font-family="'Liberation Serif', 'Times New Roman', serif" font-weight="normal" fill="#000" >7</text>
<text x="1454.47" y="376.3" font-size="22.5" text-anchor="middle" font-family="'Liberation Serif', 'Times New Roman', serif" font-weight="normal" fill="#000" >8</text>
<text x="1525.65" y="376.3" font-size="22.5" text-anchor="middle" font-family="'Liberation Serif', 'Times New Roman', serif" font-weight="normal" fill="#000" >9</text>
<text x="1596.84" y="376.3" font-size="22.5" text-anchor="middle" font-family="'Liberation Serif', 'Times New Roman', serif" font-weight="normal" fill="#000" >10</text>
<text x="949.7" y="357.7" font-size="22.5" text-anchor="end" font-family="'Liberation Serif', 'Times New Roman', serif" font-weight="normal" fill="#000" >0</text>
<text x="949.7" y="340.1" font-size="22.5" text-anchor="end" font-family="'Liberation Serif', 'Times New Roman', serif" font-weight="normal" fill="#000" >0.5</text>
<text x="949.7" y="322.5" font-size="22.5" text-anchor="end" font-family="'Liberation Serif', 'Times New Roman', serif" font-weight="normal" fill="#000" >1</text>
<text x="1347.7" y="308.3" font-size="17.8" text-anchor="middle" font-family="'Liberation Sans', Arial, sans-serif" font-weight="bold" fill="#000" >R-GTRS</text>
<line x1="1027.38" y1="404.3" x2="1027.38" y2="439.5" stroke="#e9e9e9" stroke-width="1.5" />
<line x1="1098.56" y1="404.3" x2="1098.56" y2="439.5" stroke="#e9e9e9" stroke-width="1.5" />
<line x1="1169.75" y1="404.3" x2="1169.75" y2="439.5" stroke="#e9e9e9" stroke-width="1.5" />
<line x1="1240.93" y1="404.3" x2="1240.93" y2="439.5" stroke="#e9e9e9" stroke-width="1.5" />
<line x1="1312.11" y1="404.3" x2="1312.11" y2="439.5" stroke="#e9e9e9" stroke-width="1.5" />
<line x1="1383.29" y1="404.3" x2="1383.29" y2="439.5" stroke="#e9e9e9" stroke-width="1.5" />
<line x1="1454.47" y1="404.3" x2="1454.47" y2="439.5" stroke="#e9e9e9" stroke-width="1.5" />
<line x1="1525.65" y1="404.3" x2="1525.65" y2="439.5" stroke="#e9e9e9" stroke-width="1.5" />
<line x1="1596.84" y1="404.3" x2="1596.84" y2="439.5" stroke="#e9e9e9" stroke-width="1.5" />
<line x1="1668.02" y1="404.3" x2="1668.02" y2="439.5" stroke="#e9e9e9" stroke-width="1.5" />
<line x1="956.2" y1="421.9" x2="1739.2" y2="421.9" stroke="#e9e9e9" stroke-width="1.5" />
<line x1="1027.38" y1="439.5" x2="1027.38" y2="431.5" stroke="#262626" stroke-width="1.2" />
<line x1="1027.38" y1="404.3" x2="1027.38" y2="412.3" stroke="#262626" stroke-width="1.2" />
<line x1="1098.56" y1="439.5" x2="1098.56" y2="431.5" stroke="#262626" stroke-width="1.2" />
<line x1="1098.56" y1="404.3" x2="1098.56" y2="412.3" stroke="#262626" stroke-width="1.2" />
<line x1="1169.75" y1="439.5" x2="1169.75" y2="431.5" stroke="#262626" stroke-width="1.2" />
<line x1="1169.75" y1="404.3" x2="1169.75" y2="412.3" stroke="#262626" stroke-width="1.2" />
<line x1="1240.93" y1="439.5" x2="1240.93" y2="431.5" stroke="#262626" stroke-width="1.2" />
<line x1="1240.93" y1="404.3" x2="1240.93" y2="412.3" stroke="#262626" stroke-width="1.2" />
<line x1="1312.11" y1="439.5" x2="1312.11" y2="431.5" stroke="#262626" stroke-width="1.2" />
<line x1="1312.11" y1="404.3" x2="1312.11" y2="412.3" stroke="#262626" stroke-width="1.2" />
<line x1="1383.29" y1="439.5" x2="1383.29" y2="431.5" stroke="#262626" stroke-width="1.2" />
<line x1="1383.29" y1="404.3" x2="1383.29" y2="412.3" stroke="#262626" stroke-width="1.2" />
<line x1="1454.47" y1="439.5" x2="1454.47" y2="431.5" stroke="#262626" stroke-width="1.2" />
<line x1="1454.47" y1="404.3" x2="1454.47" y2="412.3" stroke="#262626" stroke-width="1.2" />
<line x1="1525.65" y1="439.5" x2="1525.65" y2="431.5" stroke="#262626" stroke-width="1.2" />
<line x1="1525.65" y1="404.3" x2="1525.65" y2="412.3" stroke="#262626" stroke-width="1.2" />
<line x1="1596.84" y1="439.5" x2="1596.84" y2="431.5" stroke="#262626" stroke-width="1.2" />
<line x1="1596.84" y1="404.3" x2="1596.84" y2="412.3" stroke="#262626" stroke-width="1.2" />
<line x1="1668.02" y1="439.5" x2="1668.02" y2="431.5" stroke="#262626" stroke-width="1.2" />
<line x1="1668.02" y1="404.3" x2="1668.02" y2="412.3" stroke="#262626" stroke-width="1.2" />
<line x1="956.2" y1="421.9" x2="964.2" y2="421.9" stroke="#262626" stroke-width="1.2" />
<line x1="1739.2" y1="421.9" x2="1731.2" y2="421.9" stroke="#7f7f7f" stroke-width="1.2" />
<line x1="956.2" y1="404.3" x2="1739.2" y2="404.3" stroke="#7f7f7f" stroke-width="1.3" />
<line x1="1739.2" y1="404.3" x2="1739.2" y2="439.5" stroke="#7f7f7f" stroke-width="1.3" />
<line x1="956.2" y1="439.5" x2="1739.2" y2="439.5" stroke="#262626" stroke-width="1.3" />
<line x1="956.2" y1="404.3" x2="956.2" y2="439.5" stroke="#262626" stroke-width="1.3" />
<rect x="984.67" y="429.64" width="85.42" height="9.86" fill="#0000ff" stroke="#000" stroke-width="1"/>
<rect x="984.67" y="407.12" width="85.42" height="22.53" fill="#ff0000" stroke="#000" stroke-width="1"/>
<rect x="984.67" y="404.3" width="85.42" height="2.82" fill="#f9fb0e" stroke="#000" stroke-width="1"/>
<rect x="1127.04" y="427.88" width="85.42" height="11.62" fill="#0000ff" stroke="#000" stroke-width="1"/>
<rect x="1127.04" y="408.35" width="85.42" height="19.54" fill="#ff0000" stroke="#000" stroke-width="1"/>
<rect x="1127.04" y="404.3" width="85.42" height="4.05" fill="#f9fb0e" stroke="#000" stroke-width="1"/>
<rect x="1269.4" y="426.48" width="85.42" height="13.02" fill="#0000ff" stroke="#000" stroke-width="1"/>
<rect x="1269.4" y="409.58" width="85.42" height="16.9" fill="#ff0000" stroke="#000" stroke-width="1"/>
<rect x="1269.4" y="404.3" width="85.42" height="5.28" fill="#f9fb0e" stroke="#000" stroke-width="1"/>
<rect x="1411.76" y="425.42" width="85.42" height="14.08" fill="#0000ff" stroke="#000" stroke-width="1"/>
<rect x="1411.76" y="410.28" width="85.42" height="15.14" fill="#ff0000" stroke="#000" stroke-width="1"/>
<rect x="1411.76" y="404.3" width="85.42" height="5.98" fill="#f9fb0e" stroke="#000" stroke-width="1"/>
<rect x="1554.13" y="424.54" width="85.42" height="14.96" fill="#0000ff" stroke="#000" stroke-width="1"/>
<rect x="1554.13" y="412.04" width="85.42" height="12.5" fill="#ff0000" stroke="#000" stroke-width="1"/>
<rect x="1554.13" y="404.3" width="85.42" height="7.74" fill="#f9fb0e" stroke="#000" stroke-width="1"/>
<text x="1027.38" y="466.1" font-size="22.5" text-anchor="middle" font-family="'Liberation Serif', 'Times New Roman', serif" font-weight="normal" fill="#000" >2</text>
<text x="1098.56" y="466.1" font-size="22.5" text-anchor="middle" font-family="'Liberation Serif', 'Times New Roman', serif" font-weight="normal" fill="#000" >3</text>
<text x="1169.75" y="466.1" font-size="22.5" text-anchor="middle" font-family="'Liberation Serif', 'Times New Roman', serif" font-weight="normal" fill="#000" >4</text>
<text x="1240.93" y="466.1" font-size="22.5" text-anchor="middle" font-family="'Liberation Serif', 'Times New Roman', serif" font-weight="normal" fill="#000" >5</text>
<text x="1312.11" y="466.1" font-size="22.5" text-anchor="middle" font-family="'Liberation Serif', 'Times New Roman', serif" font-weight="normal" fill="#000" >6</text>
<text x="1383.29" y="466.1" font-size="22.5" text-anchor="middle" font-family="'Liberation Serif', 'Times New Roman', serif" font-weight="normal" fill="#000" >7</text>
<text x="1454.47" y="466.1" font-size="22.5" text-anchor="middle" font-family="'Liberation Serif', 'Times New Roman', serif" font-weight="normal" fill="#000" >8</text>
<text x="1525.65" y="466.1" font-size="22.5" text-anchor="middle" font-family="'Liberation Serif', 'Times New Roman', serif" font-weight="normal" fill="#000" >9</text>
<text x="1596.84" y="466.1" font-size="22.5" text-anchor="middle" font-family="'Liberation Serif', 'Times New Roman', serif" font-weight="normal" fill="#000" >10</text>
<text x="949.7" y="447.5" font-size="22.5" text-anchor="end" font-family="'Liberation Serif', 'Times New Roman', serif" font-weight="normal" fill="#000" >0</text>
<text x="949.7" y="429.9" font-size="22.5" text-anchor="end" font-family="'Liberation Serif', 'Times New Roman', serif" font-weight="normal" fill="#000" >0.5</text>
<text x="949.7" y="412.3" font-size="22.5" text-anchor="end" font-family="'Liberation Serif', 'Times New Roman', serif" font-weight="normal" fill="#000" >1</text>
<text x="1347.7" y="398.1" font-size="17.8" text-anchor="middle" font-family="'Liberation Sans', Arial, sans-serif" font-weight="bold" fill="#000" >WADMM</text>
<rect x="1632.5" y="6.4" width="113.7" height="115.3" fill="#fff" stroke="#7f7f7f" stroke-width="1.2"/>
<rect x="1636.2" y="11.6" width="28.4" height="21.3" fill="#0000ff" stroke="#333" stroke-width="1"/>
<text x="1668" y="28.6" font-size="24.2" text-anchor="start" font-family="'Liberation Serif', 'Times New Roman', serif" font-weight="normal" fill="#000" >Correct</text>
<rect x="1636.2" y="39.6" width="28.4" height="21.3" fill="#ff0000" stroke="#333" stroke-width="1"/>
<text x="1668" y="56.6" font-size="24.2" text-anchor="start" font-family="'Liberation Serif', 'Times New Roman', serif" font-weight="normal" fill="#000" >False</text>
<rect x="1636.2" y="67.6" width="28.4" height="21.3" fill="#f9fb0e" stroke="#333" stroke-width="1"/>
<text x="1668" y="84.6" font-size="24.2" text-anchor="start" font-family="'Liberation Serif', 'Times New Roman', serif" font-weight="normal" fill="#000" >No</text>
<path d="M1650.2,95.4V117.4M1647,95.4H1653.4M1647,117.4H1653.4" stroke="#000" stroke-width="2.6" fill="none"/>
<text x="1668" y="112" font-size="24.2" text-anchor="start" font-family="'Liberation Serif', 'Times New Roman', serif" font-weight="normal" fill="#000" >95% CI</text>
<line x1="1027.38" y1="606.5" x2="1027.38" y2="641.7" stroke="#e9e9e9" stroke-width="1.5" />
<line x1="1098.56" y1="606.5" x2="1098.56" y2="641.7" stroke="#e9e9e9" stroke-width="1.5" />
<line x1="1169.75" y1="606.5" x2="1169.75" y2="641.7" stroke="#e9e9e9" stroke-width="1.5" />
<line x1="1240.93" y1="606.5" x2="1240.93" y2="641.7" stroke="#e9e9e9" stroke-width="1.5" />
<line x1="1312.11" y1="606.5" x2="1312.11" y2="641.7" stroke="#e9e9e9" stroke-width="1.5" />
<line x1="1383.29" y1="606.5" x2="1383.29" y2="641.7" stroke="#e9e9e9" stroke-width="1.5" />
<line x1="1454.47" y1="606.5" x2="1454.47" y2="641.7" stroke="#e9e9e9" stroke-width="1.5" />
<line x1="1525.65" y1="606.5" x2="1525.65" y2="641.7" stroke="#e9e9e9" stroke-width="1.5" />
<line x1="1596.84" y1="606.5" x2="1596.84" y2="641.7" stroke="#e9e9e9" stroke-width="1.5" />
<line x1="1668.02" y1="606.5" x2="1668.02" y2="641.7" stroke="#e9e9e9" stroke-width="1.5" />
<line x1="956.2" y1="624.1" x2="1739.2" y2="624.1" stroke="#e9e9e9" stroke-width="1.5" />
<line x1="1027.38" y1="641.7" x2="1027.38" y2="633.7" stroke="#262626" stroke-width="1.2" />
<line x1="1027.38" y1="606.5" x2="1027.38" y2="614.5" stroke="#262626" stroke-width="1.2" />
<line x1="1098.56" y1="641.7" x2="1098.56" y2="633.7" stroke="#262626" stroke-width="1.2" />
<line x1="1098.56" y1="606.5" x2="1098.56" y2="614.5" stroke="#262626" stroke-width="1.2" />
<line x1="1169.75" y1="641.7" x2="1169.75" y2="633.7" stroke="#262626" stroke-width="1.2" />
<line x1="1169.75" y1="606.5" x2="1169.75" y2="614.5" stroke="#262626" stroke-width="1.2" />
<line x1="1240.93" y1="641.7" x2="1240.93" y2="633.7" stroke="#262626" stroke-width="1.2" />
<line x1="1240.93" y1="606.5" x2="1240.93" y2="614.5" stroke="#262626" stroke-width="1.2" />
<line x1="1312.11" y1="641.7" x2="1312.11" y2="633.7" stroke="#262626" stroke-width="1.2" />
<line x1="1312.11" y1="606.5" x2="1312.11" y2="614.5" stroke="#262626" stroke-width="1.2" />
<line x1="1383.29" y1="641.7" x2="1383.29" y2="633.7" stroke="#262626" stroke-width="1.2" />
<line x1="1383.29" y1="606.5" x2="1383.29" y2="614.5" stroke="#262626" stroke-width="1.2" />
<line x1="1454.47" y1="641.7" x2="1454.47" y2="633.7" stroke="#262626" stroke-width="1.2" />
<line x1="1454.47" y1="606.5" x2="1454.47" y2="614.5" stroke="#262626" stroke-width="1.2" />
<line x1="1525.65" y1="641.7" x2="1525.65" y2="633.7" stroke="#262626" stroke-width="1.2" />
<line x1="1525.65" y1="606.5" x2="1525.65" y2="614.5" stroke="#262626" stroke-width="1.2" />
<line x1="1596.84" y1="641.7" x2="1596.84" y2="633.7" stroke="#262626" stroke-width="1.2" />
<line x1="1596.84" y1="606.5" x2="1596.84" y2="614.5" stroke="#262626" stroke-width="1.2" />
<line x1="1668.02" y1="641.7" x2="1668.02" y2="633.7" stroke="#262626" stroke-width="1.2" />
<line x1="1668.02" y1="606.5" x2="1668.02" y2="614.5" stroke="#262626" stroke-width="1.2" />
<line x1="956.2" y1="624.1" x2="964.2" y2="624.1" stroke="#262626" stroke-width="1.2" />
<line x1="1739.2" y1="624.1" x2="1731.2" y2="624.1" stroke="#7f7f7f" stroke-width="1.2" />
<line x1="956.2" y1="606.5" x2="1739.2" y2="606.5" stroke="#7f7f7f" stroke-width="1.3" />
<line x1="1739.2" y1="606.5" x2="1739.2" y2="641.7" stroke="#7f7f7f" stroke-width="1.3" />
<line x1="956.2" y1="641.7" x2="1739.2" y2="641.7" stroke="#262626" stroke-width="1.3" />
<line x1="956.2" y1="606.5" x2="956.2" y2="641.7" stroke="#262626" stroke-width="1.3" />
<rect x="984.67" y="630.08" width="85.42" height="11.62" fill="#0000ff" stroke="#000" stroke-width="1"/>
<rect x="984.67" y="606.5" width="85.42" height="23.58" fill="#ff0000" stroke="#000" stroke-width="1"/>
<rect x="1023.38" y="626.48" width="8" height="7.2" fill="#000"/>
<rect x="1127.04" y="630.08" width="85.42" height="11.62" fill="#0000ff" stroke="#000" stroke-width="1"/>
<rect x="1127.04" y="606.5" width="85.42" height="23.58" fill="#ff0000" stroke="#000" stroke-width="1"/>
<rect x="1165.75" y="626.48" width="8" height="7.2" fill="#000"/>
<rect x="1269.4" y="630.08" width="85.42" height="11.62" fill="#0000ff" stroke="#000" stroke-width="1"/>
<rect x="1269.4" y="606.5" width="85.42" height="23.58" fill="#ff0000" stroke="#000" stroke-width="1"/>
<rect x="1308.11" y="626.48" width="8" height="7.2" fill="#000"/>
<rect x="1411.76" y="630.08" width="85.42" height="11.62" fill="#0000ff" stroke="#000" stroke-width="1"/>
<rect x="1411.76" y="606.5" width="85.42" height="23.58" fill="#ff0000" stroke="#000" stroke-width="1"/>
<rect x="1450.47" y="626.48" width="8" height="7.2" fill="#000"/>
<rect x="1554.13" y="630.08" width="85.42" height="11.62" fill="#0000ff" stroke="#000" stroke-width="1"/>
<rect x="1554.13" y="606.5" width="85.42" height="23.58" fill="#ff0000" stroke="#000" stroke-width="1"/>
<rect x="1592.84" y="626.48" width="8" height="7.2" fill="#000"/>
<text x="1027.38" y="668.3" font-size="22.5" text-anchor="middle" font-family="'Liberation Serif', 'Times New Roman', serif" font-weight="normal" fill="#000" >2</text>
<text x="1098.56" y="668.3" font-size="22.5" text-anchor="middle" font-family="'Liberation Serif', 'Times New Roman', serif" font-weight="normal" fill="#000" >3</text>
<text x="1169.75" y="668.3" font-size="22.5" text-anchor="middle" font-family="'Liberation Serif', 'Times New Roman', serif" font-weight="normal" fill="#000" >4</text>
<text x="1240.93" y="668.3" font-size="22.5" text-anchor="middle" font-family="'Liberation Serif', 'Times New Roman', serif" font-weight="normal" fill="#000" >5</text>
<text x="1312.11" y="668.3" font-size="22.5" text-anchor="middle" font-family="'Liberation Serif', 'Times New Roman', serif" font-weight="normal" fill="#000" >6</text>
<text x="1383.29" y="668.3" font-size="22.5" text-anchor="middle" font-family="'Liberation Serif', 'Times New Roman', serif" font-weight="normal" fill="#000" >7</text>
<text x="1454.47" y="668.3" font-size="22.5" text-anchor="middle" font-family="'Liberation Serif', 'Times New Roman', serif" font-weight="normal" fill="#000" >8</text>
<text x="1525.65" y="668.3" font-size="22.5" text-anchor="middle" font-family="'Liberation Serif', 'Times New Roman', serif" font-weight="normal" fill="#000" >9</text>
<text x="1596.84" y="668.3" font-size="22.5" text-anchor="middle" font-family="'Liberation Serif', 'Times New Roman', serif" font-weight="normal" fill="#000" >10</text>
<text x="949.7" y="649.7" font-size="22.5" text-anchor="end" font-family="'Liberation Serif', 'Times New Roman', serif" font-weight="normal" fill="#000" >0</text>
<text x="949.7" y="632.1" font-size="22.5" text-anchor="end" font-family="'Liberation Serif', 'Times New Roman', serif" font-weight="normal" fill="#000" >0.5</text>
<text x="949.7" y="614.5" font-size="22.5" text-anchor="end" font-family="'Liberation Serif', 'Times New Roman', serif" font-weight="normal" fill="#000" >1</text>
<text x="1347.7" y="600.3" font-size="17.8" text-anchor="middle" font-family="'Liberation Sans', Arial, sans-serif" font-weight="bold" fill="#000" >VS</text>
<line x1="1027.38" y1="696.4" x2="1027.38" y2="731.6" stroke="#e9e9e9" stroke-width="1.5" />
<line x1="1098.56" y1="696.4" x2="1098.56" y2="731.6" stroke="#e9e9e9" stroke-width="1.5" />
<line x1="1169.75" y1="696.4" x2="1169.75" y2="731.6" stroke="#e9e9e9" stroke-width="1.5" />
<line x1="1240.93" y1="696.4" x2="1240.93" y2="731.6" stroke="#e9e9e9" stroke-width="1.5" />
<line x1="1312.11" y1="696.4" x2="1312.11" y2="731.6" stroke="#e9e9e9" stroke-width="1.5" />
<line x1="1383.29" y1="696.4" x2="1383.29" y2="731.6" stroke="#e9e9e9" stroke-width="1.5" />
<line x1="1454.47" y1="696.4" x2="1454.47" y2="731.6" stroke="#e9e9e9" stroke-width="1.5" />
<line x1="1525.65" y1="696.4" x2="1525.65" y2="731.6" stroke="#e9e9e9" stroke-width="1.5" />
<line x1="1596.84" y1="696.4" x2="1596.84" y2="731.6" stroke="#e9e9e9" stroke-width="1.5" />
<line x1="1668.02" y1="696.4" x2="1668.02" y2="731.6" stroke="#e9e9e9" stroke-width="1.5" />
<line x1="956.2" y1="714" x2="1739.2" y2="714" stroke="#e9e9e9" stroke-width="1.5" />
<line x1="1027.38" y1="731.6" x2="1027.38" y2="723.6" stroke="#262626" stroke-width="1.2" />
<line x1="1027.38" y1="696.4" x2="1027.38" y2="704.4" stroke="#262626" stroke-width="1.2" />
<line x1="1098.56" y1="731.6" x2="1098.56" y2="723.6" stroke="#262626" stroke-width="1.2" />
<line x1="1098.56" y1="696.4" x2="1098.56" y2="704.4" stroke="#262626" stroke-width="1.2" />
<line x1="1169.75" y1="731.6" x2="1169.75" y2="723.6" stroke="#262626" stroke-width="1.2" />
<line x1="1169.75" y1="696.4" x2="1169.75" y2="704.4" stroke="#262626" stroke-width="1.2" />
<line x1="1240.93" y1="731.6" x2="1240.93" y2="723.6" stroke="#262626" stroke-width="1.2" />
<line x1="1240.93" y1="696.4" x2="1240.93" y2="704.4" stroke="#262626" stroke-width="1.2" />
<line x1="1312.11" y1="731.6" x2="1312.11" y2="723.6" stroke="#262626" stroke-width="1.2" />
<line x1="1312.11" y1="696.4" x2="1312.11" y2="704.4" stroke="#262626" stroke-width="1.2" />
<line x1="1383.29" y1="731.6" x2="1383.29" y2="723.6" stroke="#262626" stroke-width="1.2" />
<line x1="1383.29" y1="696.4" x2="1383.29" y2="704.4" stroke="#262626" stroke-width="1.2" />
<line x1="1454.47" y1="731.6" x2="1454.47" y2="723.6" stroke="#262626" stroke-width="1.2" />
<line x1="1454.47" y1="696.4" x2="1454.47" y2="704.4" stroke="#262626" stroke-width="1.2" />
<line x1="1525.65" y1="731.6" x2="1525.65" y2="723.6" stroke="#262626" stroke-width="1.2" />
<line x1="1525.65" y1="696.4" x2="1525.65" y2="704.4" stroke="#262626" stroke-width="1.2" />
<line x1="1596.84" y1="731.6" x2="1596.84" y2="723.6" stroke="#262626" stroke-width="1.2" />
<line x1="1596.84" y1="696.4" x2="1596.84" y2="704.4" stroke="#262626" stroke-width="1.2" />
<line x1="1668.02" y1="731.6" x2="1668.02" y2="723.6" stroke="#262626" stroke-width="1.2" />
<line x1="1668.02" y1="696.4" x2="1668.02" y2="704.4" stroke="#262626" stroke-width="1.2" />
<line x1="956.2" y1="714" x2="964.2" y2="714" stroke="#262626" stroke-width="1.2" />
<line x1="1739.2" y1="714" x2="1731.2" y2="714" stroke="#7f7f7f" stroke-width="1.2" />
<line x1="956.2" y1="696.4" x2="1739.2" y2="696.4" stroke="#7f7f7f" stroke-width="1.3" />
<line x1="1739.2" y1="696.4" x2="1739.2" y2="731.6" stroke="#7f7f7f" stroke-width="1.3" />
<line x1="956.2" y1="731.6" x2="1739.2" y2="731.6" stroke="#262626" stroke-width="1.3" />
<line x1="956.2" y1="696.4" x2="956.2" y2="731.6" stroke="#262626" stroke-width="1.3" />
<rect x="984.67" y="725.62" width="85.42" height="5.98" fill="#0000ff" stroke="#000" stroke-width="1"/>
<rect x="984.67" y="696.4" width="85.42" height="29.22" fill="#ff0000" stroke="#000" stroke-width="1"/>
<rect x="1127.04" y="725.62" width="85.42" height="5.98" fill="#0000ff" stroke="#000" stroke-width="1"/>
<rect x="1127.04" y="696.4" width="85.42" height="29.22" fill="#ff0000" stroke="#000" stroke-width="1"/>
<rect x="1269.4" y="725.62" width="85.42" height="5.98" fill="#0000ff" stroke="#000" stroke-width="1"/>
<rect x="1269.4" y="696.4" width="85.42" height="29.22" fill="#ff0000" stroke="#000" stroke-width="1"/>
<rect x="1411.76" y="725.62" width="85.42" height="5.98" fill="#0000ff" stroke="#000" stroke-width="1"/>
<rect x="1411.76" y="696.4" width="85.42" height="29.22" fill="#ff0000" stroke="#000" stroke-width="1"/>
<rect x="1554.13" y="725.62" width="85.42" height="5.98" fill="#0000ff" stroke="#000" stroke-width="1"/>
<rect x="1554.13" y="696.4" width="85.42" height="29.22" fill="#ff0000" stroke="#000" stroke-width="1"/>
<text x="1027.38" y="758.2" font-size="22.5" text-anchor="middle" font-family="'Liberation Serif', 'Times New Roman', serif" font-weight="normal" fill="#000" >2</text>
<text x="1098.56" y="758.2" font-size="22.5" text-anchor="middle" font-family="'Liberation Serif', 'Times New Roman', serif" font-weight="normal" fill="#000" >3</text>
<text x="1169.75" y="758.2" font-size="22.5" text-anchor="middle" font-family="'Liberation Serif', 'Times New Roman', serif" font-weight="normal" fill="#000" >4</text>
<text x="1240.93" y="758.2" font-size="22.5" text-anchor="middle" font-family="'Liberation Serif', 'Times New Roman', serif" font-weight="normal" fill="#000" >5</text>
<text x="1312.11" y="758.2" font-size="22.5" text-anchor="middle" font-family="'Liberation Serif', 'Times New Roman', serif" font-weight="normal" fill="#000" >6</text>
<text x="1383.29" y="758.2" font-size="22.5" text-anchor="middle" font-family="'Liberation Serif', 'Times New Roman', serif" font-weight="normal" fill="#000" >7</text>
<text x="1454.47" y="758.2" font-size="22.5" text-anchor="middle" font-family="'Liberation Serif', 'Times New Roman', serif" font-weight="normal" fill="#000" >8</text>
<text x="1525.65" y="758.2" font-size="22.5" text-anchor="middle" font-family="'Liberation Serif', 'Times New Roman', serif" font-weight="normal" fill="#000" >9</text>
<text x="1596.84" y="758.2" font-size="22.5" text-anchor="middle" font-family="'Liberation Serif', 'Times New Roman', serif" font-weight="normal" fill="#000" >10</text>
<text x="949.7" y="739.6" font-size="22.5" text-anchor="end" font-family="'Liberation Serif', 'Times New Roman', serif" font-weight="normal" fill="#000" >0</text>
<text x="949.7" y="722" font-size="22.5" text-anchor="end" font-family="'Liberation Serif', 'Times New Roman', serif" font-weight="normal" fill="#000" >0.5</text>
<text x="949.7" y="704.4" font-size="22.5" text-anchor="end" font-family="'Liberation Serif', 'Times New Roman', serif" font-weight="normal" fill="#000" >1</text>
<text x="1347.7" y="690.2" font-size="17.8" text-anchor="middle" font-family="'Liberation Sans', Arial, sans-serif" font-weight="bold" fill="#000" >LC-GTRS</text>
<line x1="1027.38" y1="786.3" x2="1027.38" y2="821.5" stroke="#e9e9e9" stroke-width="1.5" />
<line x1="1098.56" y1="786.3" x2="1098.56" y2="821.5" stroke="#e9e9e9" stroke-width="1.5" />
<line x1="1169.75" y1="786.3" x2="1169.75" y2="821.5" stroke="#e9e9e9" stroke-width="1.5" />
<line x1="1240.93" y1="786.3" x2="1240.93" y2="821.5" stroke="#e9e9e9" stroke-width="1.5" />
<line x1="1312.11" y1="786.3" x2="1312.11" y2="821.5" stroke="#e9e9e9" stroke-width="1.5" />
<line x1="1383.29" y1="786.3" x2="1383.29" y2="821.5" stroke="#e9e9e9" stroke-width="1.5" />
<line x1="1454.47" y1="786.3" x2="1454.47" y2="821.5" stroke="#e9e9e9" stroke-width="1.5" />
<line x1="1525.65" y1="786.3" x2="1525.65" y2="821.5" stroke="#e9e9e9" stroke-width="1.5" />
<line x1="1596.84" y1="786.3" x2="1596.84" y2="821.5" stroke="#e9e9e9" stroke-width="1.5" />
<line x1="1668.02" y1="786.3" x2="1668.02" y2="821.5" stroke="#e9e9e9" stroke-width="1.5" />
<line x1="956.2" y1="803.9" x2="1739.2" y2="803.9" stroke="#e9e9e9" stroke-width="1.5" />
<line x1="1027.38" y1="821.5" x2="1027.38" y2="813.5" stroke="#262626" stroke-width="1.2" />
<line x1="1027.38" y1="786.3" x2="1027.38" y2="794.3" stroke="#262626" stroke-width="1.2" />
<line x1="1098.56" y1="821.5" x2="1098.56" y2="813.5" stroke="#262626" stroke-width="1.2" />
<line x1="1098.56" y1="786.3" x2="1098.56" y2="794.3" stroke="#262626" stroke-width="1.2" />
<line x1="1169.75" y1="821.5" x2="1169.75" y2="813.5" stroke="#262626" stroke-width="1.2" />
<line x1="1169.75" y1="786.3" x2="1169.75" y2="794.3" stroke="#262626" stroke-width="1.2" />
<line x1="1240.93" y1="821.5" x2="1240.93" y2="813.5" stroke="#262626" stroke-width="1.2" />
<line x1="1240.93" y1="786.3" x2="1240.93" y2="794.3" stroke="#262626" stroke-width="1.2" />
<line x1="1312.11" y1="821.5" x2="1312.11" y2="813.5" stroke="#262626" stroke-width="1.2" />
<line x1="1312.11" y1="786.3" x2="1312.11" y2="794.3" stroke="#262626" stroke-width="1.2" />
<line x1="1383.29" y1="821.5" x2="1383.29" y2="813.5" stroke="#262626" stroke-width="1.2" />
<line x1="1383.29" y1="786.3" x2="1383.29" y2="794.3" stroke="#262626" stroke-width="1.2" />
<line x1="1454.47" y1="821.5" x2="1454.47" y2="813.5" stroke="#262626" stroke-width="1.2" />
<line x1="1454.47" y1="786.3" x2="1454.47" y2="794.3" stroke="#262626" stroke-width="1.2" />
<line x1="1525.65" y1="821.5" x2="1525.65" y2="813.5" stroke="#262626" stroke-width="1.2" />
<line x1="1525.65" y1="786.3" x2="1525.65" y2="794.3" stroke="#262626" stroke-width="1.2" />
<line x1="1596.84" y1="821.5" x2="1596.84" y2="813.5" stroke="#262626" stroke-width="1.2" />
<line x1="1596.84" y1="786.3" x2="1596.84" y2="794.3" stroke="#262626" stroke-width="1.2" />
<line x1="1668.02" y1="821.5" x2="1668.02" y2="813.5" stroke="#262626" stroke-width="1.2" />
<line x1="1668.02" y1="786.3" x2="1668.02" y2="794.3" stroke="#262626" stroke-width="1.2" />
<line x1="956.2" y1="803.9" x2="964.2" y2="803.9" stroke="#262626" stroke-width="1.2" />
<line x1="1739.2" y1="803.9" x2="1731.2" y2="803.9" stroke="#7f7f7f" stroke-width="1.2" />
<line x1="956.2" y1="786.3" x2="1739.2" y2="786.3" stroke="#7f7f7f" stroke-width="1.3" />
<line x1="1739.2" y1="786.3" x2="1739.2" y2="821.5" stroke="#7f7f7f" stroke-width="1.3" />
<line x1="956.2" y1="821.5" x2="1739.2" y2="821.5" stroke="#262626" stroke-width="1.3" />
<line x1="956.2" y1="786.3" x2="956.2" y2="821.5" stroke="#262626" stroke-width="1.3" />
<rect x="984.67" y="817.98" width="85.42" height="3.52" fill="#0000ff" stroke="#000" stroke-width="1"/>
<rect x="984.67" y="786.3" width="85.42" height="31.68" fill="#ff0000" stroke="#000" stroke-width="1"/>
<rect x="1127.04" y="817.98" width="85.42" height="3.52" fill="#0000ff" stroke="#000" stroke-width="1"/>
<rect x="1127.04" y="786.3" width="85.42" height="31.68" fill="#ff0000" stroke="#000" stroke-width="1"/>
<rect x="1269.4" y="817.98" width="85.42" height="3.52" fill="#0000ff" stroke="#000" stroke-width="1"/>
<rect x="1269.4" y="786.3" width="85.42" height="31.68" fill="#ff0000" stroke="#000" stroke-width="1"/>
<rect x="1411.76" y="817.98" width="85.42" height="3.52" fill="#0000ff" stroke="#000" stroke-width="1"/>
<rect x="1411.76" y="786.3" width="85.42" height="31.68" fill="#ff0000" stroke="#000" stroke-width="1"/>
<rect x="1554.13" y="817.98" width="85.42" height="3.52" fill="#0000ff" stroke="#000" stroke-width="1"/>
<rect x="1554.13" y="786.3" width="85.42" height="31.68" fill="#ff0000" stroke="#000" stroke-width="1"/>
<text x="1027.38" y="848.1" font-size="22.5" text-anchor="middle" font-family="'Liberation Serif', 'Times New Roman', serif" font-weight="normal" fill="#000" >2</text>
<text x="1098.56" y="848.1" font-size="22.5" text-anchor="middle" font-family="'Liberation Serif', 'Times New Roman', serif" font-weight="normal" fill="#000" >3</text>
<text x="1169.75" y="848.1" font-size="22.5" text-anchor="middle" font-family="'Liberation Serif', 'Times New Roman', serif" font-weight="normal" fill="#000" >4</text>
<text x="1240.93" y="848.1" font-size="22.5" text-anchor="middle" font-family="'Liberation Serif', 'Times New Roman', serif" font-weight="normal" fill="#000" >5</text>
<text x="1312.11" y="848.1" font-size="22.5" text-anchor="middle" font-family="'Liberation Serif', 'Times New Roman', serif" font-weight="normal" fill="#000" >6</text>
<text x="1383.29" y="848.1" font-size="22.5" text-anchor="middle" font-family="'Liberation Serif', 'Times New Roman', serif" font-weight="normal" fill="#000" >7</text>
<text x="1454.47" y="848.1" font-size="22.5" text-anchor="middle" font-family="'Liberation Serif', 'Times New Roman', serif" font-weight="normal" fill="#000" >8</text>
<text x="1525.65" y="848.1" font-size="22.5" text-anchor="middle" font-family="'Liberation Serif', 'Times New Roman', serif" font-weight="normal" fill="#000" >9</text>
<text x="1596.84" y="848.1" font-size="22.5" text-anchor="middle" font-family="'Liberation Serif', 'Times New Roman', serif" font-weight="normal" fill="#000" >10</text>
<text x="949.7" y="829.5" font-size="22.5" text-anchor="end" font-family="'Liberation Serif', 'Times New Roman', serif" font-weight="normal" fill="#000" >0</text>
<text x="949.7" y="811.9" font-size="22.5" text-anchor="end" font-family="'Liberation Serif', 'Times New Roman', serif" font-weight="normal" fill="#000" >0.5</text>
<text x="949.7" y="794.3" font-size="22.5" text-anchor="end" font-family="'Liberation Serif', 'Times New Roman', serif" font-weight="normal" fill="#000" >1</text>
<text x="1347.7" y="780.1" font-size="17.8" text-anchor="middle" font-family="'Liberation Sans', Arial, sans-serif" font-weight="bold" fill="#000" >LN-1E</text>
<line x1="1027.38" y1="876.2" x2="1027.38" y2="911.4" stroke="#e9e9e9" stroke-width="1.5" />
<line x1="1098.56" y1="876.2" x2="1098.56" y2="911.4" stroke="#e9e9e9" stroke-width="1.5" />
<line x1="1169.75" y1="876.2" x2="1169.75" y2="911.4" stroke="#e9e9e9" stroke-width="1.5" />
<line x1="1240.93" y1="876.2" x2="1240.93" y2="911.4" stroke="#e9e9e9" stroke-width="1.5" />
<line x1="1312.11" y1="876.2" x2="1312.11" y2="911.4" stroke="#e9e9e9" stroke-width="1.5" />
<line x1="1383.29" y1="876.2" x2="1383.29" y2="911.4" stroke="#e9e9e9" stroke-width="1.5" />
<line x1="1454.47" y1="876.2" x2="1454.47" y2="911.4" stroke="#e9e9e9" stroke-width="1.5" />
<line x1="1525.65" y1="876.2" x2="1525.65" y2="911.4" stroke="#e9e9e9" stroke-width="1.5" />
<line x1="1596.84" y1="876.2" x2="1596.84" y2="911.4" stroke="#e9e9e9" stroke-width="1.5" />
<line x1="1668.02" y1="876.2" x2="1668.02" y2="911.4" stroke="#e9e9e9" stroke-width="1.5" />
<line x1="956.2" y1="893.8" x2="1739.2" y2="893.8" stroke="#e9e9e9" stroke-width="1.5" />
<line x1="1027.38" y1="911.4" x2="1027.38" y2="903.4" stroke="#262626" stroke-width="1.2" />
<line x1="1027.38" y1="876.2" x2="1027.38" y2="884.2" stroke="#262626" stroke-width="1.2" />
<line x1="1098.56" y1="911.4" x2="1098.56" y2="903.4" stroke="#262626" stroke-width="1.2" />
<line x1="1098.56" y1="876.2" x2="1098.56" y2="884.2" stroke="#262626" stroke-width="1.2" />
<line x1="1169.75" y1="911.4" x2="1169.75" y2="903.4" stroke="#262626" stroke-width="1.2" />
<line x1="1169.75" y1="876.2" x2="1169.75" y2="884.2" stroke="#262626" stroke-width="1.2" />
<line x1="1240.93" y1="911.4" x2="1240.93" y2="903.4" stroke="#262626" stroke-width="1.2" />
<line x1="1240.93" y1="876.2" x2="1240.93" y2="884.2" stroke="#262626" stroke-width="1.2" />
<line x1="1312.11" y1="911.4" x2="1312.11" y2="903.4" stroke="#262626" stroke-width="1.2" />
<line x1="1312.11" y1="876.2" x2="1312.11" y2="884.2" stroke="#262626" stroke-width="1.2" />
<line x1="1383.29" y1="911.4" x2="1383.29" y2="903.4" stroke="#262626" stroke-width="1.2" />
<line x1="1383.29" y1="876.2" x2="1383.29" y2="884.2" stroke="#262626" stroke-width="1.2" />
<line x1="1454.47" y1="911.4" x2="1454.47" y2="903.4" stroke="#262626" stroke-width="1.2" />
<line x1="1454.47" y1="876.2" x2="1454.47" y2="884.2" stroke="#262626" stroke-width="1.2" />
<line x1="1525.65" y1="911.4" x2="1525.65" y2="903.4" stroke="#262626" stroke-width="1.2" />
<line x1="1525.65" y1="876.2" x2="1525.65" y2="884.2" stroke="#262626" stroke-width="1.2" />
<line x1="1596.84" y1="911.4" x2="1596.84" y2="903.4" stroke="#262626" stroke-width="1.2" />
<line x1="1596.84" y1="876.2" x2="1596.84" y2="884.2" stroke="#262626" stroke-width="1.2" />
<line x1="1668.02" y1="911.4" x2="1668.02" y2="903.4" stroke="#262626" stroke-width="1.2" />
<line x1="1668.02" y1="876.2" x2="1668.02" y2="884.2" stroke="#262626" stroke-width="1.2" />
<line x1="956.2" y1="893.8" x2="964.2" y2="893.8" stroke="#262626" stroke-width="1.2" />
<line x1="1739.2" y1="893.8" x2="1731.2" y2="893.8" stroke="#7f7f7f" stroke-width="1.2" />
<line x1="956.2" y1="876.2" x2="1739.2" y2="876.2" stroke="#7f7f7f" stroke-width="1.3" />
<line x1="1739.2" y1="876.2" x2="1739.2" y2="911.4" stroke="#7f7f7f" stroke-width="1.3" />
<line x1="956.2" y1="911.4" x2="1739.2" y2="911.4" stroke="#262626" stroke-width="1.3" />
<line x1="956.2" y1="876.2" x2="956.2" y2="911.4" stroke="#262626" stroke-width="1.3" />
<rect x="984.67" y="904.36" width="85.42" height="7.04" fill="#0000ff" stroke="#000" stroke-width="1"/>
<rect x="984.67" y="876.2" width="85.42" height="28.16" fill="#ff0000" stroke="#000" stroke-width="1"/>
<rect x="1127.04" y="904.36" width="85.42" height="7.04" fill="#0000ff" stroke="#000" stroke-width="1"/>
<rect x="1127.04" y="876.2" width="85.42" height="28.16" fill="#ff0000" stroke="#000" stroke-width="1"/>
<rect x="1269.4" y="904.36" width="85.42" height="7.04" fill="#0000ff" stroke="#000" stroke-width="1"/>
<rect x="1269.4" y="876.2" width="85.42" height="28.16" fill="#ff0000" stroke="#000" stroke-width="1"/>
<rect x="1411.76" y="904.36" width="85.42" height="7.04" fill="#0000ff" stroke="#000" stroke-width="1"/>
<rect x="1411.76" y="876.2" width="85.42" height="28.16" fill="#ff0000" stroke="#000" stroke-width="1"/>
<rect x="1554.13" y="904.36" width="85.42" height="7.04" fill="#0000ff" stroke="#000" stroke-width="1"/>
<rect x="1554.13" y="876.2" width="85.42" height="28.16" fill="#ff0000" stroke="#000" stroke-width="1"/>
<text x="1027.38" y="938" font-size="22.5" text-anchor="middle" font-family="'Liberation Serif', 'Times New Roman', serif" font-weight="normal" fill="#000" >2</text>
<text x="1098.56" y="938" font-size="22.5" text-anchor="middle" font-family="'Liberation Serif', 'Times New Roman', serif" font-weight="normal" fill="#000" >3</text>
<text x="1169.75" y="938" font-size="22.5" text-anchor="middle" font-family="'Liberation Serif', 'Times New Roman', serif" font-weight="normal" fill="#000" >4</text>
<text x="1240.93" y="938" font-size="22.5" text-anchor="middle" font-family="'Liberation Serif', 'Times New Roman', serif" font-weight="normal" fill="#000" >5</text>
<text x="1312.11" y="938" font-size="22.5" text-anchor="middle" font-family="'Liberation Serif', 'Times New Roman', serif" font-weight="normal" fill="#000" >6</text>
<text x="1383.29" y="938" font-size="22.5" text-anchor="middle" font-family="'Liberation Serif', 'Times New Roman', serif" font-weight="normal" fill="#000" >7</text>
<text x="1454.47" y="938" font-size="22.5" text-anchor="middle" font-family="'Liberation Serif', 'Times New Roman', serif" font-weight="normal" fill="#000" >8</text>
<text x="1525.65" y="938" font-size="22.5" text-anchor="middle" font-family="'Liberation Serif', 'Times New Roman', serif" font-weight="normal" fill="#000" >9</text>
<text x="1596.84" y="938" font-size="22.5" text-anchor="middle" font-family="'Liberation Serif', 'Times New Roman', serif" font-weight="normal" fill="#000" >10</text>
<text x="949.7" y="919.4" font-size="22.5" text-anchor="end" font-family="'Liberation Serif', 'Times New Roman', serif" font-weight="normal" fill="#000" >0</text>
<text x="949.7" y="901.8" font-size="22.5" text-anchor="end" font-family="'Liberation Serif', 'Times New Roman', serif" font-weight="normal" fill="#000" >0.5</text>
<text x="949.7" y="884.2" font-size="22.5" text-anchor="end" font-family="'Liberation Serif', 'Times New Roman', serif" font-weight="normal" fill="#000" >1</text>
<text x="1347.7" y="870" font-size="17.8" text-anchor="middle" font-family="'Liberation Sans', Arial, sans-serif" font-weight="bold" fill="#000" >R-GTRS</text>
<line x1="1027.38" y1="966.1" x2="1027.38" y2="1001.3" stroke="#e9e9e9" stroke-width="1.5" />
<line x1="1098.56" y1="966.1" x2="1098.56" y2="1001.3" stroke="#e9e9e9" stroke-width="1.5" />
<line x1="1169.75" y1="966.1" x2="1169.75" y2="1001.3" stroke="#e9e9e9" stroke-width="1.5" />
<line x1="1240.93" y1="966.1" x2="1240.93" y2="1001.3" stroke="#e9e9e9" stroke-width="1.5" />
<line x1="1312.11" y1="966.1" x2="1312.11" y2="1001.3" stroke="#e9e9e9" stroke-width="1.5" />
<line x1="1383.29" y1="966.1" x2="1383.29" y2="1001.3" stroke="#e9e9e9" stroke-width="1.5" />
<line x1="1454.47" y1="966.1" x2="1454.47" y2="1001.3" stroke="#e9e9e9" stroke-width="1.5" />
<line x1="1525.65" y1="966.1" x2="1525.65" y2="1001.3" stroke="#e9e9e9" stroke-width="1.5" />
<line x1="1596.84" y1="966.1" x2="1596.84" y2="1001.3" stroke="#e9e9e9" stroke-width="1.5" />
<line x1="1668.02" y1="966.1" x2="1668.02" y2="1001.3" stroke="#e9e9e9" stroke-width="1.5" />
<line x1="956.2" y1="983.7" x2="1739.2" y2="983.7" stroke="#e9e9e9" stroke-width="1.5" />
<line x1="1027.38" y1="1001.3" x2="1027.38" y2="993.3" stroke="#262626" stroke-width="1.2" />
<line x1="1027.38" y1="966.1" x2="1027.38" y2="974.1" stroke="#262626" stroke-width="1.2" />
<line x1="1098.56" y1="1001.3" x2="1098.56" y2="993.3" stroke="#262626" stroke-width="1.2" />
<line x1="1098.56" y1="966.1" x2="1098.56" y2="974.1" stroke="#262626" stroke-width="1.2" />
<line x1="1169.75" y1="1001.3" x2="1169.75" y2="993.3" stroke="#262626" stroke-width="1.2" />
<line x1="1169.75" y1="966.1" x2="1169.75" y2="974.1" stroke="#262626" stroke-width="1.2" />
<line x1="1240.93" y1="1001.3" x2="1240.93" y2="993.3" stroke="#262626" stroke-width="1.2" />
<line x1="1240.93" y1="966.1" x2="1240.93" y2="974.1" stroke="#262626" stroke-width="1.2" />
<line x1="1312.11" y1="1001.3" x2="1312.11" y2="993.3" stroke="#262626" stroke-width="1.2" />
<line x1="1312.11" y1="966.1" x2="1312.11" y2="974.1" stroke="#262626" stroke-width="1.2" />
<line x1="1383.29" y1="1001.3" x2="1383.29" y2="993.3" stroke="#262626" stroke-width="1.2" />
<line x1="1383.29" y1="966.1" x2="1383.29" y2="974.1" stroke="#262626" stroke-width="1.2" />
<line x1="1454.47" y1="1001.3" x2="1454.47" y2="993.3" stroke="#262626" stroke-width="1.2" />
<line x1="1454.47" y1="966.1" x2="1454.47" y2="974.1" stroke="#262626" stroke-width="1.2" />
<line x1="1525.65" y1="1001.3" x2="1525.65" y2="993.3" stroke="#262626" stroke-width="1.2" />
<line x1="1525.65" y1="966.1" x2="1525.65" y2="974.1" stroke="#262626" stroke-width="1.2" />
<line x1="1596.84" y1="1001.3" x2="1596.84" y2="993.3" stroke="#262626" stroke-width="1.2" />
<line x1="1596.84" y1="966.1" x2="1596.84" y2="974.1" stroke="#262626" stroke-width="1.2" />
<line x1="1668.02" y1="1001.3" x2="1668.02" y2="993.3" stroke="#262626" stroke-width="1.2" />
<line x1="1668.02" y1="966.1" x2="1668.02" y2="974.1" stroke="#262626" stroke-width="1.2" />
<line x1="956.2" y1="983.7" x2="964.2" y2="983.7" stroke="#262626" stroke-width="1.2" />
<line x1="1739.2" y1="983.7" x2="1731.2" y2="983.7" stroke="#7f7f7f" stroke-width="1.2" />
<line x1="956.2" y1="966.1" x2="1739.2" y2="966.1" stroke="#7f7f7f" stroke-width="1.3" />
<line x1="1739.2" y1="966.1" x2="1739.2" y2="1001.3" stroke="#7f7f7f" stroke-width="1.3" />
<line x1="956.2" y1="1001.3" x2="1739.2" y2="1001.3" stroke="#262626" stroke-width="1.3" />
<line x1="956.2" y1="966.1" x2="956.2" y2="1001.3" stroke="#262626" stroke-width="1.3" />
<rect x="984.67" y="988.45" width="85.42" height="12.85" fill="#0000ff" stroke="#000" stroke-width="1"/>
<rect x="984.67" y="969.09" width="85.42" height="19.36" fill="#ff0000" stroke="#000" stroke-width="1"/>
<rect x="984.67" y="966.1" width="85.42" height="2.99" fill="#f9fb0e" stroke="#000" stroke-width="1"/>
<rect x="1127.04" y="988.45" width="85.42" height="12.85" fill="#0000ff" stroke="#000" stroke-width="1"/>
<rect x="1127.04" y="969.09" width="85.42" height="19.36" fill="#ff0000" stroke="#000" stroke-width="1"/>
<rect x="1127.04" y="966.1" width="85.42" height="2.99" fill="#f9fb0e" stroke="#000" stroke-width="1"/>
<rect x="1269.4" y="988.45" width="85.42" height="12.85" fill="#0000ff" stroke="#000" stroke-width="1"/>
<rect x="1269.4" y="969.09" width="85.42" height="19.36" fill="#ff0000" stroke="#000" stroke-width="1"/>
<rect x="1269.4" y="966.1" width="85.42" height="2.99" fill="#f9fb0e" stroke="#000" stroke-width="1"/>
<rect x="1411.76" y="988.45" width="85.42" height="12.85" fill="#0000ff" stroke="#000" stroke-width="1"/>
<rect x="1411.76" y="969.09" width="85.42" height="19.36" fill="#ff0000" stroke="#000" stroke-width="1"/>
<rect x="1411.76" y="966.1" width="85.42" height="2.99" fill="#f9fb0e" stroke="#000" stroke-width="1"/>
<rect x="1554.13" y="988.45" width="85.42" height="12.85" fill="#0000ff" stroke="#000" stroke-width="1"/>
<rect x="1554.13" y="969.09" width="85.42" height="19.36" fill="#ff0000" stroke="#000" stroke-width="1"/>
<rect x="1554.13" y="966.1" width="85.42" height="2.99" fill="#f9fb0e" stroke="#000" stroke-width="1"/>
<text x="1027.38" y="1027.9" font-size="22.5" text-anchor="middle" font-family="'Liberation Serif', 'Times New Roman', serif" font-weight="normal" fill="#000" >2</text>
<text x="1098.56" y="1027.9" font-size="22.5" text-anchor="middle" font-family="'Liberation Serif', 'Times New Roman', serif" font-weight="normal" fill="#000" >3</text>
<text x="1169.75" y="1027.9" font-size="22.5" text-anchor="middle" font-family="'Liberation Serif', 'Times New Roman', serif" font-weight="normal" fill="#000" >4</text>
<text x="1240.93" y="1027.9" font-size="22.5" text-anchor="middle" font-family="'Liberation Serif', 'Times New Roman', serif" font-weight="normal" fill="#000" >5</text>
<text x="1312.11" y="1027.9" font-size="22.5" text-anchor="middle" font-family="'Liberation Serif', 'Times New Roman', serif" font-weight="normal" fill="#000" >6</text>
<text x="1383.29" y="1027.9" font-size="22.5" text-anchor="middle" font-family="'Liberation Serif', 'Times New Roman', serif" font-weight="normal" fill="#000" >7</text>
<text x="1454.47" y="1027.9" font-size="22.5" text-anchor="middle" font-family="'Liberation Serif', 'Times New Roman', serif" font-weight="normal" fill="#000" >8</text>
<text x="1525.65" y="1027.9" font-size="22.5" text-anchor="middle" font-family="'Liberation Serif', 'Times New Roman', serif" font-weight="normal" fill="#000" >9</text>
<text x="1596.84" y="1027.9" font-size="22.5" text-anchor="middle" font-family="'Liberation Serif', 'Times New Roman', serif" font-weight="normal" fill="#000" >10</text>
<text x="949.7" y="1009.3" font-size="22.5" text-anchor="end" font-family="'Liberation Serif', 'Times New Roman', serif" font-weight="normal" fill="#000" >0</text>
<text x="949.7" y="991.7" font-size="22.5" text-anchor="end" font-family="'Liberation Serif', 'Times New Roman', serif" font-weight="normal" fill="#000" >0.5</text>
<text x="949.7" y="974.1" font-size="22.5" text-anchor="end" font-family="'Liberation Serif', 'Times New Roman', serif" font-weight="normal" fill="#000" >1</text>
<text x="1347.7" y="959.9" font-size="17.8" text-anchor="middle" font-family="'Liberation Sans', Arial, sans-serif" font-weight="bold" fill="#000" >WADMM</text>
<rect x="1632.5" y="568.3" width="113.7" height="115.3" fill="#fff" stroke="#7f7f7f" stroke-width="1.2"/>
<rect x="1636.2" y="573.5" width="28.4" height="21.3" fill="#0000ff" stroke="#333" stroke-width="1"/>
<text x="1668" y="590.5" font-size="24.2" text-anchor="start" font-family="'Liberation Serif', 'Times New Roman', serif" font-weight="normal" fill="#000" >Correct</text>
<rect x="1636.2" y="601.5" width="28.4" height="21.3" fill="#ff0000" stroke="#333" stroke-width="1"/>
<text x="1668" y="618.5" font-size="24.2" text-anchor="start" font-family="'Liberation Serif', 'Times New Roman', serif" font-weight="normal" fill="#000" >False</text>
<rect x="1636.2" y="629.5" width="28.4" height="21.3" fill="#f9fb0e" stroke="#333" stroke-width="1"/>
<text x="1668" y="646.5" font-size="24.2" text-anchor="start" font-family="'Liberation Serif', 'Times New Roman', serif" font-weight="normal" fill="#000" >No</text>
<path d="M1650.2,657.3V679.3M1647,657.3H1653.4M1647,679.3H1653.4" stroke="#000" stroke-width="2.6" fill="none"/>
<text x="1668" y="673.9" font-size="24.2" text-anchor="start" font-family="'Liberation Serif', 'Times New Roman', serif" font-weight="normal" fill="#000" >95% CI</text>
<text x="911" y="242.4" font-size="25.6" text-anchor="middle" font-family="'Liberation Serif', 'Times New Roman', serif" font-weight="normal" fill="#000" transform="rotate(-90 911 242.4)">Detection rates</text>
<text x="911" y="803.8" font-size="25.6" text-anchor="middle" font-family="'Liberation Serif', 'Times New Roman', serif" font-weight="normal" fill="#000" transform="rotate(-90 911 803.8)">Detection rates</text>
<text x="1327.9" y="491.85" font-size="26.3" text-anchor="start" font-family="'Liberation Serif', 'Times New Roman', serif" font-weight="normal" fill="#000" >|</text>
<text x="1362.5" y="491.85" font-size="26.3" text-anchor="start" font-family="'Liberation Serif', 'Times New Roman', serif" font-weight="normal" fill="#000" >|</text>
<text x="0" y="0" font-size="23.5" font-family="DejaVu Sans, sans-serif" transform="translate(1333.9 492.1) scale(1.13 1)">&#x2133;</text>
<text x="1327.9" y="1053.25" font-size="26.3" text-anchor="start" font-family="'Liberation Serif', 'Times New Roman', serif" font-weight="normal" fill="#000" >|</text>
<text x="1362.5" y="1053.25" font-size="26.3" text-anchor="start" font-family="'Liberation Serif', 'Times New Roman', serif" font-weight="normal" fill="#000" >|</text>
<text x="0" y="0" font-size="23.5" font-family="DejaVu Sans, sans-serif" transform="translate(1333.9 1053.5) scale(1.13 1)">&#x2133;</text>
<text x="-1.3" y="24.9" font-size="44" text-anchor="start" font-family="'Liberation Serif', 'Times New Roman', serif" font-weight="bold" fill="#000" >a.</text>
<text x="875.5" y="28.5" font-size="43" text-anchor="start" font-family="'Liberation Serif', 'Times New Roman', serif" font-weight="bold" fill="#000" >b.</text>
<text x="-0.6" y="565.4" font-size="45" text-anchor="start" font-family="'Liberation Serif', 'Times New Roman', serif" font-weight="bold" fill="#000" >c.</text>
<text x="889.3" y="583.5" font-size="43" text-anchor="start" font-family="'Liberation Serif', 'Times New Roman', serif" font-weight="bold" fill="#000" >d.</text>
</svg></body></html>
